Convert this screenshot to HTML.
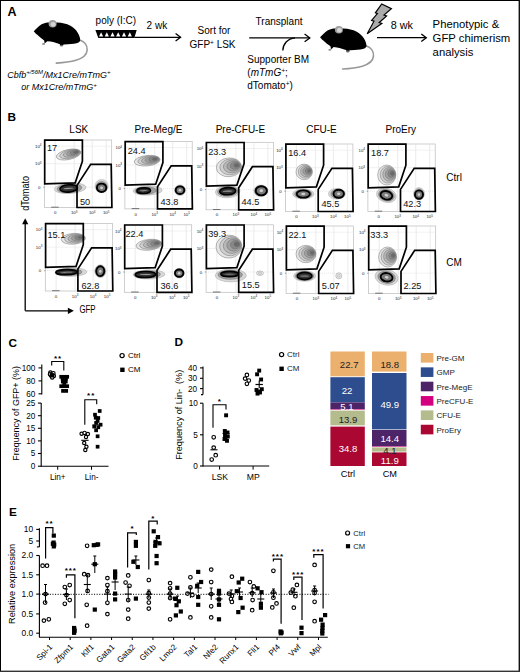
<!DOCTYPE html><html><head><meta charset="utf-8"><style>html,body{margin:0;padding:0;background:#fff;width:520px;height:672px;overflow:hidden;}svg{display:block;}text{font-family:"Liberation Sans", sans-serif;}</style></head><body>
<svg width="520" height="672" viewBox="0 0 520 672">
<rect x="0" y="0" width="520" height="672" fill="#fff"/>
<text x="7.60" y="16.20" font-size="12.5" text-anchor="start" font-weight="bold" fill="#000" >A</text>
<g transform="translate(0,0)">
<path d="M80.3,40.2 C84,41.5 87.5,45 87.2,50 C86.8,55 82,58.5 76,60.3 C70,62 62,62.8 56.3,63.1" fill="none" stroke="#999" stroke-width="1.6" stroke-linecap="round"/>
<path d="M33.8,31.3 C36,29 38.5,26.5 41.2,24.6 C43.5,23.3 45.5,22.7 47.5,22.5 L57.3,22.6 C62,22.9 66.7,23.9 70,25.5 C73.5,27.2 76,29.8 77.7,32.7 C79.3,35.5 80.3,38.2 80.2,40.7 C79.5,42.4 77.5,43.2 74,43.7 L68,44.2 L64,44.4 L62.2,45.2 L60.2,45.0 L59.8,44.2 C57.5,43.4 54,42.3 50.6,41.6 L47.3,41.2 L45.8,42.6 L44.6,43.4 L44.2,40.4 C41.5,38.6 39,36.6 37,34.6 C35.5,33.3 34.4,32.3 33.8,31.3 Z" fill="#000"/>
<ellipse cx="52.6" cy="23.8" rx="4.0" ry="3.8" fill="#9c9c9c"/>
<ellipse cx="53.1" cy="24.3" rx="2.5" ry="2.4" fill="#d4d4d4"/>
<ellipse cx="43.6" cy="43.9" rx="1.6" ry="0.9" fill="#8a8a8a"/>
<ellipse cx="61.5" cy="45.6" rx="1.8" ry="0.9" fill="#6a6a6a"/>
</g>
<g transform="translate(286.3,5.9)">
<path d="M80.3,40.2 C84,41.5 87.5,45 87.2,50 C86.8,55 82,58.5 76,60.3 C70,62 62,62.8 56.3,63.1" fill="none" stroke="#999" stroke-width="1.6" stroke-linecap="round"/>
<path d="M33.8,31.3 C36,29 38.5,26.5 41.2,24.6 C43.5,23.3 45.5,22.7 47.5,22.5 L57.3,22.6 C62,22.9 66.7,23.9 70,25.5 C73.5,27.2 76,29.8 77.7,32.7 C79.3,35.5 80.3,38.2 80.2,40.7 C79.5,42.4 77.5,43.2 74,43.7 L68,44.2 L64,44.4 L62.2,45.2 L60.2,45.0 L59.8,44.2 C57.5,43.4 54,42.3 50.6,41.6 L47.3,41.2 L45.8,42.6 L44.6,43.4 L44.2,40.4 C41.5,38.6 39,36.6 37,34.6 C35.5,33.3 34.4,32.3 33.8,31.3 Z" fill="#000"/>
<ellipse cx="52.6" cy="23.8" rx="4.0" ry="3.8" fill="#9c9c9c"/>
<ellipse cx="53.1" cy="24.3" rx="2.5" ry="2.4" fill="#d4d4d4"/>
<ellipse cx="43.6" cy="43.9" rx="1.6" ry="0.9" fill="#8a8a8a"/>
<ellipse cx="61.5" cy="45.6" rx="1.8" ry="0.9" fill="#6a6a6a"/>
</g>
<text x="7.2" y="77.6" font-size="9" font-style="italic">Cbfb<tspan font-size="6" dy="-3.3">+/56M</tspan><tspan dy="3.3">/Mx1Cre/mTmG</tspan><tspan font-size="6" dy="-3.3">+</tspan></text>
<text x="21.2" y="90.4" font-size="9" font-style="italic">or Mx1Cre/mTmG<tspan font-size="6" dy="-3.3">+</tspan></text>
<text x="95.60" y="23.50" font-size="10" text-anchor="start" fill="#000" >poly (I:C)</text>
<polygon points="95.40,30.00 136.70,30.00 134.30,37.90 98.30,37.90" fill="#000" stroke="none" stroke-width="1" />
<polygon points="99.00,36.60 103.20,36.60 101.10,32.30" fill="#fff" stroke="none" stroke-width="1" />
<polygon points="104.70,36.60 108.90,36.60 106.80,32.30" fill="#fff" stroke="none" stroke-width="1" />
<polygon points="110.40,36.60 114.60,36.60 112.50,32.30" fill="#fff" stroke="none" stroke-width="1" />
<polygon points="116.10,36.60 120.30,36.60 118.20,32.30" fill="#fff" stroke="none" stroke-width="1" />
<polygon points="121.90,36.60 126.10,36.60 124.00,32.30" fill="#fff" stroke="none" stroke-width="1" />
<polygon points="127.70,36.60 131.90,36.60 129.80,32.30" fill="#fff" stroke="none" stroke-width="1" />
<line x1="134.30" y1="37.30" x2="180.50" y2="37.30" stroke="#000" stroke-width="1.3" />
<polyline points="175.60,33.50 180.60,37.30 175.60,41.10" fill="none" stroke="#000" stroke-width="1.3" />
<text x="146.60" y="28.60" font-size="10" text-anchor="start" fill="#000" >2 wk</text>
<text x="197.60" y="34.20" font-size="10" text-anchor="start" fill="#000" >Sort for</text>
<text x="189.5" y="48.2" font-size="10">GFP<tspan font-size="6.5" dy="-3.5">+</tspan><tspan dy="3.5"> LSK</tspan></text>
<text x="255.60" y="25.00" font-size="10" text-anchor="start" fill="#000" >Transplant</text>
<line x1="249.20" y1="37.90" x2="309.80" y2="37.90" stroke="#000" stroke-width="1.3" />
<polyline points="304.60,34.10 309.80,37.90 304.60,41.70" fill="none" stroke="#000" stroke-width="1.3" />
<path d="M282.8,50.6 C283,44 287.5,38.6 295,37.9" fill="none" stroke="#000" stroke-width="1.3"/>
<text x="247.30" y="63.00" font-size="10" text-anchor="start" fill="#000" >Supporter BM</text>
<text x="247.3" y="76.3" font-size="10">(<tspan font-style="italic">mTmG</tspan><tspan font-size="6.5" dy="-3.5" font-style="italic">+</tspan><tspan dy="3.5">;</tspan></text>
<text x="247.3" y="89.3" font-size="10">dTomato<tspan font-size="6.5" dy="-3.5">+</tspan><tspan dy="3.5">)</tspan></text>
<polygon points="381.70,4.00 391.40,8.70 384.00,15.00 386.60,16.00 379.20,22.60 381.80,23.40 367.20,33.70 374.00,21.20 371.60,20.40 377.40,13.60 375.40,12.80" fill="#ababab" stroke="#000" stroke-width="1.2" stroke-linejoin="miter"/>
<text x="390.80" y="28.80" font-size="10.8" text-anchor="start" fill="#000" >8 wk</text>
<line x1="377.00" y1="37.70" x2="426.20" y2="37.70" stroke="#000" stroke-width="1.3" />
<polyline points="421.30,33.90 426.30,37.70 421.30,41.50" fill="none" stroke="#000" stroke-width="1.3" />
<text x="432.60" y="27.90" font-size="11.3" text-anchor="start" fill="#000" >Phenotypic &amp;</text>
<text x="432.60" y="41.90" font-size="11.3" text-anchor="start" fill="#000" >GFP chimerism</text>
<text x="432.60" y="56.00" font-size="11.3" text-anchor="start" fill="#000" >analysis</text>
<text x="7.60" y="120.80" font-size="11.8" text-anchor="start" font-weight="bold" fill="#000" >B</text>
<text x="78.80" y="133.40" font-size="10" text-anchor="middle" fill="#000" >LSK</text>
<text x="158.50" y="133.40" font-size="10" text-anchor="middle" fill="#000" >Pre-Meg/E</text>
<text x="240.40" y="133.40" font-size="10" text-anchor="middle" fill="#000" >Pre-CFU-E</text>
<text x="321.50" y="133.40" font-size="10" text-anchor="middle" fill="#000" >CFU-E</text>
<text x="400.80" y="133.40" font-size="10" text-anchor="middle" fill="#000" >ProEry</text>
<rect x="44.40" y="140.00" width="67.30" height="67.50" fill="none" stroke="#bbb" stroke-width="0.7"/>
<line x1="55.20" y1="140.00" x2="55.20" y2="207.50" stroke="#dedede" stroke-width="0.6" />
<line x1="74.20" y1="140.00" x2="74.20" y2="207.50" stroke="#dedede" stroke-width="0.6" />
<line x1="92.20" y1="140.00" x2="92.20" y2="207.50" stroke="#dedede" stroke-width="0.6" />
<line x1="106.20" y1="140.00" x2="106.20" y2="207.50" stroke="#dedede" stroke-width="0.6" />
<line x1="44.40" y1="146.20" x2="111.70" y2="146.20" stroke="#e2e2e2" stroke-width="0.5" />
<line x1="44.40" y1="163.70" x2="111.70" y2="163.70" stroke="#e2e2e2" stroke-width="0.5" />
<line x1="44.40" y1="187.20" x2="111.70" y2="187.20" stroke="#d0d0d0" stroke-width="0.5" stroke-dasharray="1,1"/>
<text x="41.50" y="147.70" font-size="4.4" text-anchor="end" fill="#222">10<tspan font-size="3" dy="-1.5">4</tspan></text>
<text x="41.50" y="165.20" font-size="4.4" text-anchor="end" fill="#222">10<tspan font-size="3" dy="-1.5">3</tspan></text>
<text x="40.40" y="188.70" font-size="4.4" text-anchor="end" fill="#222">0</text>
<text x="55.20" y="214.10" font-size="4.4" text-anchor="middle" fill="#222">0</text>
<text x="74.20" y="214.10" font-size="4.4" text-anchor="middle" fill="#222">10<tspan font-size="3" dy="-1.5">3</tspan></text>
<text x="92.20" y="214.10" font-size="4.4" text-anchor="middle" fill="#222">10<tspan font-size="3" dy="-1.5">4</tspan></text>
<text x="106.20" y="214.10" font-size="4.4" text-anchor="middle" fill="#222">10<tspan font-size="3" dy="-1.5">5</tspan></text>
<line x1="51.20" y1="207.20" x2="58.70" y2="207.20" stroke="#666" stroke-width="0.9" />
<line x1="43.20" y1="187.20" x2="44.40" y2="187.20" stroke="#555" stroke-width="0.6" />
<g transform="translate(68.60,154.50) rotate(-12)">
<ellipse cx="0.00" cy="-0.00" rx="12.50" ry="5.00" fill="#e6e6e6" stroke="#666" stroke-width="0.45"/>
<ellipse cx="1.50" cy="-0.15" rx="10.50" ry="4.20" fill="#cfcfcf" stroke="#666" stroke-width="0.45"/>
<ellipse cx="3.00" cy="-0.30" rx="8.50" ry="3.40" fill="#b8b8b8" stroke="#666" stroke-width="0.45"/>
<ellipse cx="4.50" cy="-0.45" rx="6.50" ry="2.60" fill="#a0a0a0" stroke="#666" stroke-width="0.45"/>
<ellipse cx="6.00" cy="-0.60" rx="4.50" ry="1.80" fill="#888888" stroke="#666" stroke-width="0.45"/>
<ellipse cx="7.50" cy="-0.75" rx="2.50" ry="1.00" fill="#6a6a6a" stroke="#666" stroke-width="0.45"/>
</g>
<g transform="translate(68.70,188.40) rotate(-4)">
<ellipse cx="1.50" cy="0.00" rx="15.90" ry="5.20" fill="#d8d8d8" stroke="#a0a0a0" stroke-width="0.45"/>
<ellipse cx="0.75" cy="0.00" rx="12.35" ry="4.45" fill="#a0a0a0" stroke="#606060" stroke-width="0.45"/>
<ellipse cx="0" cy="0" rx="8.80" ry="3.70" fill="#333" stroke="#000" stroke-width="1.6"/>
<ellipse cx="0" cy="0" rx="5.28" ry="0.59" fill="#a0a0a0"/>
</g>
<g transform="translate(101.60,187.80) rotate(0)">
<ellipse cx="0.00" cy="-1.80" rx="6.60" ry="6.60" fill="#d8d8d8" stroke="#a0a0a0" stroke-width="0.45"/>
<ellipse cx="0.00" cy="-0.90" rx="5.65" ry="5.40" fill="#a0a0a0" stroke="#606060" stroke-width="0.45"/>
<ellipse cx="0" cy="0" rx="4.70" ry="4.20" fill="#7a7a7a" stroke="#000" stroke-width="1.9"/>
<ellipse cx="0" cy="0" rx="1.50" ry="1.34" fill="#d0d0d0"/>
</g>
<polygon points="44.70,140.20 82.40,140.20 82.40,161.20 75.20,182.80 44.70,183.80" fill="none" stroke="#000" stroke-width="1.7" stroke-linejoin="miter"/>
<polygon points="90.70,164.40 111.20,164.40 111.90,207.50 77.00,207.50 77.00,185.40" fill="none" stroke="#000" stroke-width="1.7" stroke-linejoin="miter"/>
<text x="47.00" y="151.40" font-size="9.2" text-anchor="start" fill="#111" >17</text>
<text x="80.00" y="205.10" font-size="9.2" text-anchor="start" fill="#111" >50</text>
<rect x="124.90" y="141.40" width="67.30" height="67.50" fill="none" stroke="#bbb" stroke-width="0.7"/>
<line x1="135.70" y1="141.40" x2="135.70" y2="208.90" stroke="#dedede" stroke-width="0.6" />
<line x1="154.70" y1="141.40" x2="154.70" y2="208.90" stroke="#dedede" stroke-width="0.6" />
<line x1="172.70" y1="141.40" x2="172.70" y2="208.90" stroke="#dedede" stroke-width="0.6" />
<line x1="186.70" y1="141.40" x2="186.70" y2="208.90" stroke="#dedede" stroke-width="0.6" />
<line x1="124.90" y1="147.60" x2="192.20" y2="147.60" stroke="#e2e2e2" stroke-width="0.5" />
<line x1="124.90" y1="165.10" x2="192.20" y2="165.10" stroke="#e2e2e2" stroke-width="0.5" />
<line x1="124.90" y1="188.60" x2="192.20" y2="188.60" stroke="#d0d0d0" stroke-width="0.5" stroke-dasharray="1,1"/>
<text x="122.00" y="149.10" font-size="4.4" text-anchor="end" fill="#222">10<tspan font-size="3" dy="-1.5">4</tspan></text>
<text x="122.00" y="166.60" font-size="4.4" text-anchor="end" fill="#222">10<tspan font-size="3" dy="-1.5">3</tspan></text>
<text x="120.90" y="190.10" font-size="4.4" text-anchor="end" fill="#222">0</text>
<text x="135.70" y="215.50" font-size="4.4" text-anchor="middle" fill="#222">0</text>
<text x="154.70" y="215.50" font-size="4.4" text-anchor="middle" fill="#222">10<tspan font-size="3" dy="-1.5">3</tspan></text>
<text x="172.70" y="215.50" font-size="4.4" text-anchor="middle" fill="#222">10<tspan font-size="3" dy="-1.5">4</tspan></text>
<text x="186.70" y="215.50" font-size="4.4" text-anchor="middle" fill="#222">10<tspan font-size="3" dy="-1.5">5</tspan></text>
<line x1="131.70" y1="208.60" x2="139.20" y2="208.60" stroke="#666" stroke-width="0.9" />
<line x1="123.70" y1="188.60" x2="124.90" y2="188.60" stroke="#555" stroke-width="0.6" />
<g transform="translate(147.20,160.70) rotate(-6)">
<ellipse cx="0.00" cy="-0.00" rx="13.00" ry="5.20" fill="#e6e6e6" stroke="#666" stroke-width="0.45"/>
<ellipse cx="1.56" cy="-0.16" rx="10.92" ry="4.37" fill="#cfcfcf" stroke="#666" stroke-width="0.45"/>
<ellipse cx="3.12" cy="-0.31" rx="8.84" ry="3.54" fill="#b8b8b8" stroke="#666" stroke-width="0.45"/>
<ellipse cx="4.68" cy="-0.47" rx="6.76" ry="2.70" fill="#a0a0a0" stroke="#666" stroke-width="0.45"/>
<ellipse cx="6.24" cy="-0.62" rx="4.68" ry="1.87" fill="#888888" stroke="#666" stroke-width="0.45"/>
<ellipse cx="7.80" cy="-0.78" rx="2.60" ry="1.04" fill="#6a6a6a" stroke="#666" stroke-width="0.45"/>
</g>
<g transform="translate(143.70,190.70) rotate(-2)">
<ellipse cx="4.00" cy="0.00" rx="14.60" ry="4.60" fill="#d8d8d8" stroke="#a0a0a0" stroke-width="0.45"/>
<ellipse cx="2.00" cy="0.00" rx="10.70" ry="3.70" fill="#a0a0a0" stroke="#606060" stroke-width="0.45"/>
<ellipse cx="0" cy="0" rx="6.80" ry="2.80" fill="#333" stroke="#000" stroke-width="1.6"/>
<ellipse cx="0" cy="0" rx="4.08" ry="0.45" fill="#a0a0a0"/>
</g>
<g transform="translate(180.00,190.20) rotate(0)">
<ellipse cx="0.00" cy="0.00" rx="5.50" ry="5.30" fill="#d8d8d8" stroke="#a0a0a0" stroke-width="0.45"/>
<ellipse cx="0.00" cy="0.00" rx="4.90" ry="4.55" fill="#a0a0a0" stroke="#606060" stroke-width="0.45"/>
<ellipse cx="0" cy="0" rx="4.30" ry="3.80" fill="#7a7a7a" stroke="#000" stroke-width="1.9"/>
<ellipse cx="0" cy="0" rx="1.38" ry="1.22" fill="#d0d0d0"/>
</g>
<polygon points="125.20,141.60 162.90,141.60 162.90,162.60 155.70,184.20 125.20,185.20" fill="none" stroke="#000" stroke-width="1.7" stroke-linejoin="miter"/>
<polygon points="171.20,165.80 191.70,165.80 192.40,208.90 157.50,208.90 157.50,186.80" fill="none" stroke="#000" stroke-width="1.7" stroke-linejoin="miter"/>
<text x="127.70" y="154.30" font-size="9.2" text-anchor="start" fill="#111" >24.4</text>
<text x="160.50" y="204.80" font-size="9.2" text-anchor="start" fill="#111" >43.8</text>
<rect x="206.10" y="142.30" width="67.30" height="67.50" fill="none" stroke="#bbb" stroke-width="0.7"/>
<line x1="216.90" y1="142.30" x2="216.90" y2="209.80" stroke="#dedede" stroke-width="0.6" />
<line x1="235.90" y1="142.30" x2="235.90" y2="209.80" stroke="#dedede" stroke-width="0.6" />
<line x1="253.90" y1="142.30" x2="253.90" y2="209.80" stroke="#dedede" stroke-width="0.6" />
<line x1="267.90" y1="142.30" x2="267.90" y2="209.80" stroke="#dedede" stroke-width="0.6" />
<line x1="206.10" y1="148.50" x2="273.40" y2="148.50" stroke="#e2e2e2" stroke-width="0.5" />
<line x1="206.10" y1="166.00" x2="273.40" y2="166.00" stroke="#e2e2e2" stroke-width="0.5" />
<line x1="206.10" y1="189.50" x2="273.40" y2="189.50" stroke="#d0d0d0" stroke-width="0.5" stroke-dasharray="1,1"/>
<text x="203.20" y="150.00" font-size="4.4" text-anchor="end" fill="#222">10<tspan font-size="3" dy="-1.5">4</tspan></text>
<text x="203.20" y="167.50" font-size="4.4" text-anchor="end" fill="#222">10<tspan font-size="3" dy="-1.5">3</tspan></text>
<text x="202.10" y="191.00" font-size="4.4" text-anchor="end" fill="#222">0</text>
<text x="216.90" y="216.40" font-size="4.4" text-anchor="middle" fill="#222">0</text>
<text x="235.90" y="216.40" font-size="4.4" text-anchor="middle" fill="#222">10<tspan font-size="3" dy="-1.5">3</tspan></text>
<text x="253.90" y="216.40" font-size="4.4" text-anchor="middle" fill="#222">10<tspan font-size="3" dy="-1.5">4</tspan></text>
<text x="267.90" y="216.40" font-size="4.4" text-anchor="middle" fill="#222">10<tspan font-size="3" dy="-1.5">5</tspan></text>
<line x1="212.90" y1="209.50" x2="220.40" y2="209.50" stroke="#666" stroke-width="0.9" />
<line x1="204.90" y1="189.50" x2="206.10" y2="189.50" stroke="#555" stroke-width="0.6" />
<g transform="translate(229.00,167.30) rotate(-4)">
<ellipse cx="0.00" cy="-0.00" rx="12.70" ry="9.40" fill="#e6e6e6" stroke="#666" stroke-width="0.45"/>
<ellipse cx="1.52" cy="-0.28" rx="10.67" ry="7.90" fill="#cfcfcf" stroke="#666" stroke-width="0.45"/>
<ellipse cx="3.05" cy="-0.56" rx="8.64" ry="6.39" fill="#b8b8b8" stroke="#666" stroke-width="0.45"/>
<ellipse cx="4.57" cy="-0.85" rx="6.60" ry="4.89" fill="#a0a0a0" stroke="#666" stroke-width="0.45"/>
<ellipse cx="6.10" cy="-1.13" rx="4.57" ry="3.38" fill="#888888" stroke="#666" stroke-width="0.45"/>
<ellipse cx="7.62" cy="-1.41" rx="2.54" ry="1.88" fill="#6a6a6a" stroke="#666" stroke-width="0.45"/>
</g>
<g transform="translate(227.70,191.20) rotate(-3)">
<ellipse cx="0.00" cy="0.50" rx="12.30" ry="6.10" fill="#d8d8d8" stroke="#a0a0a0" stroke-width="0.45"/>
<ellipse cx="0.00" cy="0.25" rx="10.15" ry="4.85" fill="#a0a0a0" stroke="#606060" stroke-width="0.45"/>
<ellipse cx="0" cy="0" rx="8.00" ry="3.60" fill="#333" stroke="#000" stroke-width="1.6"/>
<ellipse cx="0" cy="0" rx="4.80" ry="0.58" fill="#a0a0a0"/>
</g>
<g transform="translate(261.30,190.80) rotate(0)">
<ellipse cx="-0.50" cy="0.00" rx="7.00" ry="5.80" fill="#d8d8d8" stroke="#a0a0a0" stroke-width="0.45"/>
<ellipse cx="-0.25" cy="0.00" rx="6.30" ry="5.20" fill="#a0a0a0" stroke="#606060" stroke-width="0.45"/>
<ellipse cx="0" cy="0" rx="5.60" ry="4.60" fill="#7a7a7a" stroke="#000" stroke-width="1.9"/>
<ellipse cx="0" cy="0" rx="1.79" ry="1.47" fill="#d0d0d0"/>
</g>
<polygon points="206.40,142.50 244.10,142.50 244.10,163.50 236.90,185.10 206.40,186.10" fill="none" stroke="#000" stroke-width="1.7" stroke-linejoin="miter"/>
<polygon points="252.40,166.70 272.90,166.70 273.60,209.80 238.70,209.80 238.70,187.70" fill="none" stroke="#000" stroke-width="1.7" stroke-linejoin="miter"/>
<text x="208.20" y="154.60" font-size="9.2" text-anchor="start" fill="#111" >23.3</text>
<text x="241.40" y="204.80" font-size="9.2" text-anchor="start" fill="#111" >44.5</text>
<rect x="285.60" y="144.00" width="67.30" height="67.50" fill="none" stroke="#bbb" stroke-width="0.7"/>
<line x1="296.40" y1="144.00" x2="296.40" y2="211.50" stroke="#dedede" stroke-width="0.6" />
<line x1="315.40" y1="144.00" x2="315.40" y2="211.50" stroke="#dedede" stroke-width="0.6" />
<line x1="333.40" y1="144.00" x2="333.40" y2="211.50" stroke="#dedede" stroke-width="0.6" />
<line x1="347.40" y1="144.00" x2="347.40" y2="211.50" stroke="#dedede" stroke-width="0.6" />
<line x1="285.60" y1="150.20" x2="352.90" y2="150.20" stroke="#e2e2e2" stroke-width="0.5" />
<line x1="285.60" y1="167.70" x2="352.90" y2="167.70" stroke="#e2e2e2" stroke-width="0.5" />
<line x1="285.60" y1="191.20" x2="352.90" y2="191.20" stroke="#d0d0d0" stroke-width="0.5" stroke-dasharray="1,1"/>
<text x="282.70" y="151.70" font-size="4.4" text-anchor="end" fill="#222">10<tspan font-size="3" dy="-1.5">4</tspan></text>
<text x="282.70" y="169.20" font-size="4.4" text-anchor="end" fill="#222">10<tspan font-size="3" dy="-1.5">3</tspan></text>
<text x="281.60" y="192.70" font-size="4.4" text-anchor="end" fill="#222">0</text>
<text x="296.40" y="218.10" font-size="4.4" text-anchor="middle" fill="#222">0</text>
<text x="315.40" y="218.10" font-size="4.4" text-anchor="middle" fill="#222">10<tspan font-size="3" dy="-1.5">3</tspan></text>
<text x="333.40" y="218.10" font-size="4.4" text-anchor="middle" fill="#222">10<tspan font-size="3" dy="-1.5">4</tspan></text>
<text x="347.40" y="218.10" font-size="4.4" text-anchor="middle" fill="#222">10<tspan font-size="3" dy="-1.5">5</tspan></text>
<line x1="292.40" y1="211.20" x2="299.90" y2="211.20" stroke="#666" stroke-width="0.9" />
<line x1="284.40" y1="191.20" x2="285.60" y2="191.20" stroke="#555" stroke-width="0.6" />
<g transform="translate(304.20,171.90) rotate(0)">
<ellipse cx="0.00" cy="-0.00" rx="8.20" ry="7.80" fill="#e6e6e6" stroke="#666" stroke-width="0.45"/>
<ellipse cx="0.98" cy="-0.23" rx="6.89" ry="6.55" fill="#cfcfcf" stroke="#666" stroke-width="0.45"/>
<ellipse cx="1.97" cy="-0.47" rx="5.58" ry="5.30" fill="#b8b8b8" stroke="#666" stroke-width="0.45"/>
<ellipse cx="2.95" cy="-0.70" rx="4.26" ry="4.06" fill="#a0a0a0" stroke="#666" stroke-width="0.45"/>
<ellipse cx="3.94" cy="-0.94" rx="2.95" ry="2.81" fill="#888888" stroke="#666" stroke-width="0.45"/>
<ellipse cx="4.92" cy="-1.17" rx="1.64" ry="1.56" fill="#6a6a6a" stroke="#666" stroke-width="0.45"/>
</g>
<g transform="translate(303.30,194.00) rotate(0)">
<ellipse cx="0.00" cy="0.00" rx="10.70" ry="5.00" fill="#d8d8d8" stroke="#a0a0a0" stroke-width="0.45"/>
<ellipse cx="0.00" cy="0.00" rx="8.65" ry="4.30" fill="#a0a0a0" stroke="#606060" stroke-width="0.45"/>
<ellipse cx="0" cy="0" rx="6.60" ry="3.60" fill="#7a7a7a" stroke="#000" stroke-width="1.9"/>
<ellipse cx="0" cy="0" rx="2.11" ry="1.15" fill="#d0d0d0"/>
</g>
<g transform="translate(338.70,193.80) rotate(0)">
<ellipse cx="-1.80" cy="0.00" rx="8.50" ry="5.40" fill="#d8d8d8" stroke="#a0a0a0" stroke-width="0.45"/>
<ellipse cx="-0.90" cy="0.00" rx="6.85" ry="4.70" fill="#a0a0a0" stroke="#606060" stroke-width="0.45"/>
<ellipse cx="0" cy="0" rx="5.20" ry="4.00" fill="#7a7a7a" stroke="#000" stroke-width="1.9"/>
<ellipse cx="0" cy="0" rx="1.66" ry="1.28" fill="#d0d0d0"/>
</g>
<polygon points="285.90,144.20 323.60,144.20 323.60,165.20 316.40,186.80 285.90,187.80" fill="none" stroke="#000" stroke-width="1.7" stroke-linejoin="miter"/>
<polygon points="331.90,168.40 352.40,168.40 353.10,211.50 318.20,211.50 318.20,189.40" fill="none" stroke="#000" stroke-width="1.7" stroke-linejoin="miter"/>
<text x="288.20" y="156.00" font-size="9.2" text-anchor="start" fill="#111" >16.4</text>
<text x="321.40" y="207.40" font-size="9.2" text-anchor="start" fill="#111" >45.5</text>
<rect x="367.90" y="144.00" width="67.30" height="67.50" fill="none" stroke="#bbb" stroke-width="0.7"/>
<line x1="378.70" y1="144.00" x2="378.70" y2="211.50" stroke="#dedede" stroke-width="0.6" />
<line x1="397.70" y1="144.00" x2="397.70" y2="211.50" stroke="#dedede" stroke-width="0.6" />
<line x1="415.70" y1="144.00" x2="415.70" y2="211.50" stroke="#dedede" stroke-width="0.6" />
<line x1="429.70" y1="144.00" x2="429.70" y2="211.50" stroke="#dedede" stroke-width="0.6" />
<line x1="367.90" y1="150.20" x2="435.20" y2="150.20" stroke="#e2e2e2" stroke-width="0.5" />
<line x1="367.90" y1="167.70" x2="435.20" y2="167.70" stroke="#e2e2e2" stroke-width="0.5" />
<line x1="367.90" y1="191.20" x2="435.20" y2="191.20" stroke="#d0d0d0" stroke-width="0.5" stroke-dasharray="1,1"/>
<text x="365.00" y="151.70" font-size="4.4" text-anchor="end" fill="#222">10<tspan font-size="3" dy="-1.5">4</tspan></text>
<text x="365.00" y="169.20" font-size="4.4" text-anchor="end" fill="#222">10<tspan font-size="3" dy="-1.5">3</tspan></text>
<text x="363.90" y="192.70" font-size="4.4" text-anchor="end" fill="#222">0</text>
<text x="378.70" y="218.10" font-size="4.4" text-anchor="middle" fill="#222">0</text>
<text x="397.70" y="218.10" font-size="4.4" text-anchor="middle" fill="#222">10<tspan font-size="3" dy="-1.5">3</tspan></text>
<text x="415.70" y="218.10" font-size="4.4" text-anchor="middle" fill="#222">10<tspan font-size="3" dy="-1.5">4</tspan></text>
<text x="429.70" y="218.10" font-size="4.4" text-anchor="middle" fill="#222">10<tspan font-size="3" dy="-1.5">5</tspan></text>
<line x1="374.70" y1="211.20" x2="382.20" y2="211.20" stroke="#666" stroke-width="0.9" />
<line x1="366.70" y1="191.20" x2="367.90" y2="191.20" stroke="#555" stroke-width="0.6" />
<g transform="translate(386.80,175.00) rotate(0)">
<ellipse cx="0.00" cy="-0.00" rx="9.10" ry="10.00" fill="#e6e6e6" stroke="#666" stroke-width="0.45"/>
<ellipse cx="1.09" cy="-0.30" rx="7.64" ry="8.40" fill="#cfcfcf" stroke="#666" stroke-width="0.45"/>
<ellipse cx="2.18" cy="-0.60" rx="6.19" ry="6.80" fill="#b8b8b8" stroke="#666" stroke-width="0.45"/>
<ellipse cx="3.28" cy="-0.90" rx="4.73" ry="5.20" fill="#a0a0a0" stroke="#666" stroke-width="0.45"/>
<ellipse cx="4.37" cy="-1.20" rx="3.28" ry="3.60" fill="#888888" stroke="#666" stroke-width="0.45"/>
<ellipse cx="5.46" cy="-1.50" rx="1.82" ry="2.00" fill="#6a6a6a" stroke="#666" stroke-width="0.45"/>
</g>
<g transform="translate(386.40,195.30) rotate(15)">
<ellipse cx="0.00" cy="0.00" rx="10.00" ry="7.00" fill="#d8d8d8" stroke="#a0a0a0" stroke-width="0.45"/>
<ellipse cx="0.00" cy="0.00" rx="8.00" ry="5.60" fill="#a0a0a0" stroke="#606060" stroke-width="0.45"/>
<ellipse cx="0" cy="0" rx="6.00" ry="4.20" fill="#7a7a7a" stroke="#000" stroke-width="1.9"/>
<ellipse cx="0" cy="0" rx="1.92" ry="1.34" fill="#d0d0d0"/>
</g>
<g transform="translate(419.00,194.60) rotate(0)">
<ellipse cx="0.00" cy="-0.80" rx="5.50" ry="6.20" fill="#d8d8d8" stroke="#a0a0a0" stroke-width="0.45"/>
<ellipse cx="0.00" cy="-0.40" rx="4.75" ry="5.20" fill="#a0a0a0" stroke="#606060" stroke-width="0.45"/>
<ellipse cx="0" cy="0" rx="4.00" ry="4.20" fill="#7a7a7a" stroke="#000" stroke-width="1.9"/>
<ellipse cx="0" cy="0" rx="1.28" ry="1.34" fill="#d0d0d0"/>
</g>
<polygon points="368.20,144.20 405.90,144.20 405.90,165.20 398.70,186.80 368.20,187.80" fill="none" stroke="#000" stroke-width="1.7" stroke-linejoin="miter"/>
<polygon points="414.20,168.40 434.70,168.40 435.40,211.50 400.50,211.50 400.50,189.40" fill="none" stroke="#000" stroke-width="1.7" stroke-linejoin="miter"/>
<text x="371.10" y="156.30" font-size="9.2" text-anchor="start" fill="#111" >18.7</text>
<text x="403.20" y="207.40" font-size="9.2" text-anchor="start" fill="#111" >42.3</text>
<rect x="45.30" y="223.50" width="67.30" height="67.50" fill="none" stroke="#bbb" stroke-width="0.7"/>
<line x1="56.10" y1="223.50" x2="56.10" y2="291.00" stroke="#dedede" stroke-width="0.6" />
<line x1="75.10" y1="223.50" x2="75.10" y2="291.00" stroke="#dedede" stroke-width="0.6" />
<line x1="93.10" y1="223.50" x2="93.10" y2="291.00" stroke="#dedede" stroke-width="0.6" />
<line x1="107.10" y1="223.50" x2="107.10" y2="291.00" stroke="#dedede" stroke-width="0.6" />
<line x1="45.30" y1="229.70" x2="112.60" y2="229.70" stroke="#e2e2e2" stroke-width="0.5" />
<line x1="45.30" y1="247.20" x2="112.60" y2="247.20" stroke="#e2e2e2" stroke-width="0.5" />
<line x1="45.30" y1="270.70" x2="112.60" y2="270.70" stroke="#d0d0d0" stroke-width="0.5" stroke-dasharray="1,1"/>
<text x="42.40" y="231.20" font-size="4.4" text-anchor="end" fill="#222">10<tspan font-size="3" dy="-1.5">4</tspan></text>
<text x="42.40" y="248.70" font-size="4.4" text-anchor="end" fill="#222">10<tspan font-size="3" dy="-1.5">3</tspan></text>
<text x="41.30" y="272.20" font-size="4.4" text-anchor="end" fill="#222">0</text>
<text x="56.10" y="297.60" font-size="4.4" text-anchor="middle" fill="#222">0</text>
<text x="75.10" y="297.60" font-size="4.4" text-anchor="middle" fill="#222">10<tspan font-size="3" dy="-1.5">3</tspan></text>
<text x="93.10" y="297.60" font-size="4.4" text-anchor="middle" fill="#222">10<tspan font-size="3" dy="-1.5">4</tspan></text>
<text x="107.10" y="297.60" font-size="4.4" text-anchor="middle" fill="#222">10<tspan font-size="3" dy="-1.5">5</tspan></text>
<line x1="52.10" y1="290.70" x2="59.60" y2="290.70" stroke="#666" stroke-width="0.9" />
<line x1="44.10" y1="270.70" x2="45.30" y2="270.70" stroke="#555" stroke-width="0.6" />
<g transform="translate(73.30,238.80) rotate(-4)">
<ellipse cx="0.00" cy="-0.00" rx="12.10" ry="5.40" fill="#e6e6e6" stroke="#666" stroke-width="0.45"/>
<ellipse cx="1.45" cy="-0.16" rx="10.16" ry="4.54" fill="#cfcfcf" stroke="#666" stroke-width="0.45"/>
<ellipse cx="2.90" cy="-0.32" rx="8.23" ry="3.67" fill="#b8b8b8" stroke="#666" stroke-width="0.45"/>
<ellipse cx="4.36" cy="-0.49" rx="6.29" ry="2.81" fill="#a0a0a0" stroke="#666" stroke-width="0.45"/>
<ellipse cx="5.81" cy="-0.65" rx="4.36" ry="1.94" fill="#888888" stroke="#666" stroke-width="0.45"/>
<ellipse cx="7.26" cy="-0.81" rx="2.42" ry="1.08" fill="#6a6a6a" stroke="#666" stroke-width="0.45"/>
</g>
<g transform="translate(66.50,272.20) rotate(-1)">
<ellipse cx="4.50" cy="0.00" rx="16.00" ry="4.30" fill="#d8d8d8" stroke="#a0a0a0" stroke-width="0.45"/>
<ellipse cx="2.25" cy="0.00" rx="13.30" ry="3.45" fill="#a0a0a0" stroke="#606060" stroke-width="0.45"/>
<ellipse cx="0" cy="0" rx="10.60" ry="2.60" fill="#333" stroke="#000" stroke-width="1.6"/>
<ellipse cx="0" cy="0" rx="6.36" ry="0.42" fill="#a0a0a0"/>
</g>
<g transform="translate(100.30,271.20) rotate(0)">
<ellipse cx="0.00" cy="0.00" rx="5.60" ry="6.40" fill="#d8d8d8" stroke="#a0a0a0" stroke-width="0.45"/>
<ellipse cx="0.00" cy="0.00" rx="4.80" ry="5.65" fill="#a0a0a0" stroke="#606060" stroke-width="0.45"/>
<ellipse cx="0" cy="0" rx="4.00" ry="4.90" fill="#7a7a7a" stroke="#000" stroke-width="1.9"/>
<ellipse cx="0" cy="0" rx="1.28" ry="1.57" fill="#d0d0d0"/>
</g>
<polygon points="45.60,223.70 83.30,223.70 83.30,244.70 76.10,266.30 45.60,267.30" fill="none" stroke="#000" stroke-width="1.7" stroke-linejoin="miter"/>
<polygon points="91.60,247.90 112.10,247.90 112.80,291.00 77.90,291.00 77.90,268.90" fill="none" stroke="#000" stroke-width="1.7" stroke-linejoin="miter"/>
<text x="47.40" y="238.30" font-size="9.2" text-anchor="start" fill="#111" >15.1</text>
<text x="81.40" y="288.60" font-size="9.2" text-anchor="start" fill="#111" >62.8</text>
<rect x="124.40" y="224.80" width="67.30" height="67.50" fill="none" stroke="#bbb" stroke-width="0.7"/>
<line x1="135.20" y1="224.80" x2="135.20" y2="292.30" stroke="#dedede" stroke-width="0.6" />
<line x1="154.20" y1="224.80" x2="154.20" y2="292.30" stroke="#dedede" stroke-width="0.6" />
<line x1="172.20" y1="224.80" x2="172.20" y2="292.30" stroke="#dedede" stroke-width="0.6" />
<line x1="186.20" y1="224.80" x2="186.20" y2="292.30" stroke="#dedede" stroke-width="0.6" />
<line x1="124.40" y1="231.00" x2="191.70" y2="231.00" stroke="#e2e2e2" stroke-width="0.5" />
<line x1="124.40" y1="248.50" x2="191.70" y2="248.50" stroke="#e2e2e2" stroke-width="0.5" />
<line x1="124.40" y1="272.00" x2="191.70" y2="272.00" stroke="#d0d0d0" stroke-width="0.5" stroke-dasharray="1,1"/>
<text x="121.50" y="232.50" font-size="4.4" text-anchor="end" fill="#222">10<tspan font-size="3" dy="-1.5">4</tspan></text>
<text x="121.50" y="250.00" font-size="4.4" text-anchor="end" fill="#222">10<tspan font-size="3" dy="-1.5">3</tspan></text>
<text x="120.40" y="273.50" font-size="4.4" text-anchor="end" fill="#222">0</text>
<text x="135.20" y="298.90" font-size="4.4" text-anchor="middle" fill="#222">0</text>
<text x="154.20" y="298.90" font-size="4.4" text-anchor="middle" fill="#222">10<tspan font-size="3" dy="-1.5">3</tspan></text>
<text x="172.20" y="298.90" font-size="4.4" text-anchor="middle" fill="#222">10<tspan font-size="3" dy="-1.5">4</tspan></text>
<text x="186.20" y="298.90" font-size="4.4" text-anchor="middle" fill="#222">10<tspan font-size="3" dy="-1.5">5</tspan></text>
<line x1="131.20" y1="292.00" x2="138.70" y2="292.00" stroke="#666" stroke-width="0.9" />
<line x1="123.20" y1="272.00" x2="124.40" y2="272.00" stroke="#555" stroke-width="0.6" />
<g transform="translate(149.00,244.80) rotate(-6)">
<ellipse cx="0.00" cy="-0.00" rx="13.00" ry="5.40" fill="#e6e6e6" stroke="#666" stroke-width="0.45"/>
<ellipse cx="1.56" cy="-0.16" rx="10.92" ry="4.54" fill="#cfcfcf" stroke="#666" stroke-width="0.45"/>
<ellipse cx="3.12" cy="-0.32" rx="8.84" ry="3.67" fill="#b8b8b8" stroke="#666" stroke-width="0.45"/>
<ellipse cx="4.68" cy="-0.49" rx="6.76" ry="2.81" fill="#a0a0a0" stroke="#666" stroke-width="0.45"/>
<ellipse cx="6.24" cy="-0.65" rx="4.68" ry="1.94" fill="#888888" stroke="#666" stroke-width="0.45"/>
<ellipse cx="7.80" cy="-0.81" rx="2.60" ry="1.08" fill="#6a6a6a" stroke="#666" stroke-width="0.45"/>
</g>
<g transform="translate(145.50,274.50) rotate(-1)">
<ellipse cx="3.50" cy="0.00" rx="16.00" ry="4.60" fill="#d8d8d8" stroke="#a0a0a0" stroke-width="0.45"/>
<ellipse cx="1.75" cy="0.00" rx="13.10" ry="3.80" fill="#a0a0a0" stroke="#606060" stroke-width="0.45"/>
<ellipse cx="0" cy="0" rx="10.20" ry="3.00" fill="#333" stroke="#000" stroke-width="1.6"/>
<ellipse cx="0" cy="0" rx="6.12" ry="0.48" fill="#a0a0a0"/>
</g>
<g transform="translate(179.20,273.20) rotate(0)">
<ellipse cx="0.00" cy="0.00" rx="5.00" ry="4.80" fill="#d8d8d8" stroke="#a0a0a0" stroke-width="0.45"/>
<ellipse cx="0.00" cy="0.00" rx="4.60" ry="4.25" fill="#a0a0a0" stroke="#606060" stroke-width="0.45"/>
<ellipse cx="0" cy="0" rx="4.20" ry="3.70" fill="#7a7a7a" stroke="#000" stroke-width="1.9"/>
<ellipse cx="0" cy="0" rx="1.34" ry="1.18" fill="#d0d0d0"/>
</g>
<polygon points="124.70,225.00 162.40,225.00 162.40,246.00 155.20,267.60 124.70,268.60" fill="none" stroke="#000" stroke-width="1.7" stroke-linejoin="miter"/>
<polygon points="170.70,249.20 191.20,249.20 191.90,292.30 157.00,292.30 157.00,270.20" fill="none" stroke="#000" stroke-width="1.7" stroke-linejoin="miter"/>
<text x="125.50" y="237.20" font-size="9.2" text-anchor="start" fill="#111" >22.4</text>
<text x="160.50" y="288.60" font-size="9.2" text-anchor="start" fill="#111" >36.6</text>
<rect x="206.10" y="224.80" width="67.30" height="67.50" fill="none" stroke="#bbb" stroke-width="0.7"/>
<line x1="216.90" y1="224.80" x2="216.90" y2="292.30" stroke="#dedede" stroke-width="0.6" />
<line x1="235.90" y1="224.80" x2="235.90" y2="292.30" stroke="#dedede" stroke-width="0.6" />
<line x1="253.90" y1="224.80" x2="253.90" y2="292.30" stroke="#dedede" stroke-width="0.6" />
<line x1="267.90" y1="224.80" x2="267.90" y2="292.30" stroke="#dedede" stroke-width="0.6" />
<line x1="206.10" y1="231.00" x2="273.40" y2="231.00" stroke="#e2e2e2" stroke-width="0.5" />
<line x1="206.10" y1="248.50" x2="273.40" y2="248.50" stroke="#e2e2e2" stroke-width="0.5" />
<line x1="206.10" y1="272.00" x2="273.40" y2="272.00" stroke="#d0d0d0" stroke-width="0.5" stroke-dasharray="1,1"/>
<text x="203.20" y="232.50" font-size="4.4" text-anchor="end" fill="#222">10<tspan font-size="3" dy="-1.5">4</tspan></text>
<text x="203.20" y="250.00" font-size="4.4" text-anchor="end" fill="#222">10<tspan font-size="3" dy="-1.5">3</tspan></text>
<text x="202.10" y="273.50" font-size="4.4" text-anchor="end" fill="#222">0</text>
<text x="216.90" y="298.90" font-size="4.4" text-anchor="middle" fill="#222">0</text>
<text x="235.90" y="298.90" font-size="4.4" text-anchor="middle" fill="#222">10<tspan font-size="3" dy="-1.5">3</tspan></text>
<text x="253.90" y="298.90" font-size="4.4" text-anchor="middle" fill="#222">10<tspan font-size="3" dy="-1.5">4</tspan></text>
<text x="267.90" y="298.90" font-size="4.4" text-anchor="middle" fill="#222">10<tspan font-size="3" dy="-1.5">5</tspan></text>
<line x1="212.90" y1="292.00" x2="220.40" y2="292.00" stroke="#666" stroke-width="0.9" />
<line x1="204.90" y1="272.00" x2="206.10" y2="272.00" stroke="#555" stroke-width="0.6" />
<g transform="translate(229.00,246.60) rotate(-5)">
<ellipse cx="0.00" cy="-0.00" rx="13.00" ry="11.50" fill="#e6e6e6" stroke="#666" stroke-width="0.45"/>
<ellipse cx="1.56" cy="-0.34" rx="10.92" ry="9.66" fill="#cfcfcf" stroke="#666" stroke-width="0.45"/>
<ellipse cx="3.12" cy="-0.69" rx="8.84" ry="7.82" fill="#b8b8b8" stroke="#666" stroke-width="0.45"/>
<ellipse cx="4.68" cy="-1.03" rx="6.76" ry="5.98" fill="#a0a0a0" stroke="#666" stroke-width="0.45"/>
<ellipse cx="6.24" cy="-1.38" rx="4.68" ry="4.14" fill="#888888" stroke="#666" stroke-width="0.45"/>
<ellipse cx="7.80" cy="-1.72" rx="2.60" ry="2.30" fill="#6a6a6a" stroke="#666" stroke-width="0.45"/>
</g>
<g transform="translate(229.60,274.10) rotate(0)">
<ellipse cx="1.20" cy="1.40" rx="15.60" ry="6.40" fill="#d8d8d8" stroke="#a0a0a0" stroke-width="0.45"/>
<ellipse cx="0.60" cy="0.70" rx="12.20" ry="4.55" fill="#a0a0a0" stroke="#606060" stroke-width="0.45"/>
<ellipse cx="0" cy="0" rx="8.80" ry="2.70" fill="#333" stroke="#000" stroke-width="1.6"/>
<ellipse cx="0" cy="0" rx="5.28" ry="0.43" fill="#a0a0a0"/>
</g>
<ellipse cx="260.00" cy="273.20" rx="3.50" ry="2.20" fill="#f2f2f2" stroke="#8a8a8a" stroke-width="0.5"/>
<ellipse cx="260.00" cy="273.20" rx="1.75" ry="1.10" fill="#e0e0e0" stroke="#9a9a9a" stroke-width="0.4"/>
<polygon points="206.40,225.00 244.10,225.00 244.10,246.00 236.90,267.60 206.40,268.60" fill="none" stroke="#000" stroke-width="1.7" stroke-linejoin="miter"/>
<polygon points="252.40,249.20 272.90,249.20 273.60,292.30 238.70,292.30 238.70,270.20" fill="none" stroke="#000" stroke-width="1.7" stroke-linejoin="miter"/>
<text x="208.20" y="236.60" font-size="9.2" text-anchor="start" fill="#111" >39.3</text>
<text x="241.80" y="288.00" font-size="9.2" text-anchor="start" fill="#111" >15.5</text>
<rect x="286.10" y="226.00" width="67.30" height="67.50" fill="none" stroke="#bbb" stroke-width="0.7"/>
<line x1="296.90" y1="226.00" x2="296.90" y2="293.50" stroke="#dedede" stroke-width="0.6" />
<line x1="315.90" y1="226.00" x2="315.90" y2="293.50" stroke="#dedede" stroke-width="0.6" />
<line x1="333.90" y1="226.00" x2="333.90" y2="293.50" stroke="#dedede" stroke-width="0.6" />
<line x1="347.90" y1="226.00" x2="347.90" y2="293.50" stroke="#dedede" stroke-width="0.6" />
<line x1="286.10" y1="232.20" x2="353.40" y2="232.20" stroke="#e2e2e2" stroke-width="0.5" />
<line x1="286.10" y1="249.70" x2="353.40" y2="249.70" stroke="#e2e2e2" stroke-width="0.5" />
<line x1="286.10" y1="273.20" x2="353.40" y2="273.20" stroke="#d0d0d0" stroke-width="0.5" stroke-dasharray="1,1"/>
<text x="283.20" y="233.70" font-size="4.4" text-anchor="end" fill="#222">10<tspan font-size="3" dy="-1.5">4</tspan></text>
<text x="283.20" y="251.20" font-size="4.4" text-anchor="end" fill="#222">10<tspan font-size="3" dy="-1.5">3</tspan></text>
<text x="282.10" y="274.70" font-size="4.4" text-anchor="end" fill="#222">0</text>
<text x="296.90" y="300.10" font-size="4.4" text-anchor="middle" fill="#222">0</text>
<text x="315.90" y="300.10" font-size="4.4" text-anchor="middle" fill="#222">10<tspan font-size="3" dy="-1.5">3</tspan></text>
<text x="333.90" y="300.10" font-size="4.4" text-anchor="middle" fill="#222">10<tspan font-size="3" dy="-1.5">4</tspan></text>
<text x="347.90" y="300.10" font-size="4.4" text-anchor="middle" fill="#222">10<tspan font-size="3" dy="-1.5">5</tspan></text>
<line x1="292.90" y1="293.20" x2="300.40" y2="293.20" stroke="#666" stroke-width="0.9" />
<line x1="284.90" y1="273.20" x2="286.10" y2="273.20" stroke="#555" stroke-width="0.6" />
<g transform="translate(306.00,254.00) rotate(0)">
<ellipse cx="0.00" cy="-0.00" rx="10.00" ry="8.70" fill="#e6e6e6" stroke="#666" stroke-width="0.45"/>
<ellipse cx="1.20" cy="-0.26" rx="8.40" ry="7.31" fill="#cfcfcf" stroke="#666" stroke-width="0.45"/>
<ellipse cx="2.40" cy="-0.52" rx="6.80" ry="5.92" fill="#b8b8b8" stroke="#666" stroke-width="0.45"/>
<ellipse cx="3.60" cy="-0.78" rx="5.20" ry="4.52" fill="#a0a0a0" stroke="#666" stroke-width="0.45"/>
<ellipse cx="4.80" cy="-1.04" rx="3.60" ry="3.13" fill="#888888" stroke="#666" stroke-width="0.45"/>
<ellipse cx="6.00" cy="-1.30" rx="2.00" ry="1.74" fill="#6a6a6a" stroke="#666" stroke-width="0.45"/>
</g>
<g transform="translate(304.60,276.00) rotate(0)">
<ellipse cx="0.00" cy="0.00" rx="11.00" ry="5.30" fill="#d8d8d8" stroke="#a0a0a0" stroke-width="0.45"/>
<ellipse cx="0.00" cy="0.00" rx="9.20" ry="4.45" fill="#a0a0a0" stroke="#606060" stroke-width="0.45"/>
<ellipse cx="0" cy="0" rx="7.40" ry="3.60" fill="#333" stroke="#000" stroke-width="1.6"/>
<ellipse cx="0" cy="0" rx="4.44" ry="0.58" fill="#a0a0a0"/>
</g>
<ellipse cx="338.80" cy="275.80" rx="3.00" ry="3.00" fill="#f2f2f2" stroke="#8a8a8a" stroke-width="0.5"/>
<ellipse cx="338.80" cy="275.80" rx="1.50" ry="1.50" fill="#e0e0e0" stroke="#9a9a9a" stroke-width="0.4"/>
<polygon points="286.40,226.20 324.10,226.20 324.10,247.20 316.90,268.80 286.40,269.80" fill="none" stroke="#000" stroke-width="1.7" stroke-linejoin="miter"/>
<polygon points="332.40,250.40 352.90,250.40 353.60,293.50 318.70,293.50 318.70,271.40" fill="none" stroke="#000" stroke-width="1.7" stroke-linejoin="miter"/>
<text x="288.50" y="238.00" font-size="9.2" text-anchor="start" fill="#111" >22.1</text>
<text x="321.80" y="289.00" font-size="9.2" text-anchor="start" fill="#111" >5.07</text>
<rect x="368.40" y="226.00" width="67.30" height="67.50" fill="none" stroke="#bbb" stroke-width="0.7"/>
<line x1="379.20" y1="226.00" x2="379.20" y2="293.50" stroke="#dedede" stroke-width="0.6" />
<line x1="398.20" y1="226.00" x2="398.20" y2="293.50" stroke="#dedede" stroke-width="0.6" />
<line x1="416.20" y1="226.00" x2="416.20" y2="293.50" stroke="#dedede" stroke-width="0.6" />
<line x1="430.20" y1="226.00" x2="430.20" y2="293.50" stroke="#dedede" stroke-width="0.6" />
<line x1="368.40" y1="232.20" x2="435.70" y2="232.20" stroke="#e2e2e2" stroke-width="0.5" />
<line x1="368.40" y1="249.70" x2="435.70" y2="249.70" stroke="#e2e2e2" stroke-width="0.5" />
<line x1="368.40" y1="273.20" x2="435.70" y2="273.20" stroke="#d0d0d0" stroke-width="0.5" stroke-dasharray="1,1"/>
<text x="365.50" y="233.70" font-size="4.4" text-anchor="end" fill="#222">10<tspan font-size="3" dy="-1.5">4</tspan></text>
<text x="365.50" y="251.20" font-size="4.4" text-anchor="end" fill="#222">10<tspan font-size="3" dy="-1.5">3</tspan></text>
<text x="364.40" y="274.70" font-size="4.4" text-anchor="end" fill="#222">0</text>
<text x="379.20" y="300.10" font-size="4.4" text-anchor="middle" fill="#222">0</text>
<text x="398.20" y="300.10" font-size="4.4" text-anchor="middle" fill="#222">10<tspan font-size="3" dy="-1.5">3</tspan></text>
<text x="416.20" y="300.10" font-size="4.4" text-anchor="middle" fill="#222">10<tspan font-size="3" dy="-1.5">4</tspan></text>
<text x="430.20" y="300.10" font-size="4.4" text-anchor="middle" fill="#222">10<tspan font-size="3" dy="-1.5">5</tspan></text>
<line x1="375.20" y1="293.20" x2="382.70" y2="293.20" stroke="#666" stroke-width="0.9" />
<line x1="367.20" y1="273.20" x2="368.40" y2="273.20" stroke="#555" stroke-width="0.6" />
<g transform="translate(387.60,257.00) rotate(0)">
<ellipse cx="0.00" cy="-0.00" rx="9.00" ry="10.00" fill="#e6e6e6" stroke="#666" stroke-width="0.45"/>
<ellipse cx="1.08" cy="-0.30" rx="7.56" ry="8.40" fill="#cfcfcf" stroke="#666" stroke-width="0.45"/>
<ellipse cx="2.16" cy="-0.60" rx="6.12" ry="6.80" fill="#b8b8b8" stroke="#666" stroke-width="0.45"/>
<ellipse cx="3.24" cy="-0.90" rx="4.68" ry="5.20" fill="#a0a0a0" stroke="#666" stroke-width="0.45"/>
<ellipse cx="4.32" cy="-1.20" rx="3.24" ry="3.60" fill="#888888" stroke="#666" stroke-width="0.45"/>
<ellipse cx="5.40" cy="-1.50" rx="1.80" ry="2.00" fill="#6a6a6a" stroke="#666" stroke-width="0.45"/>
</g>
<g transform="translate(386.60,277.30) rotate(10)">
<ellipse cx="0.00" cy="0.00" rx="11.70" ry="7.80" fill="#d8d8d8" stroke="#a0a0a0" stroke-width="0.45"/>
<ellipse cx="0.00" cy="0.00" rx="8.85" ry="6.00" fill="#a0a0a0" stroke="#606060" stroke-width="0.45"/>
<ellipse cx="0" cy="0" rx="6.00" ry="4.20" fill="#7a7a7a" stroke="#000" stroke-width="1.9"/>
<ellipse cx="0" cy="0" rx="1.92" ry="1.34" fill="#d0d0d0"/>
</g>
<polygon points="368.70,226.20 406.40,226.20 406.40,247.20 399.20,268.80 368.70,269.80" fill="none" stroke="#000" stroke-width="1.7" stroke-linejoin="miter"/>
<polygon points="414.70,250.40 435.20,250.40 435.90,293.50 401.00,293.50 401.00,271.40" fill="none" stroke="#000" stroke-width="1.7" stroke-linejoin="miter"/>
<text x="370.30" y="237.80" font-size="9.2" text-anchor="start" fill="#111" >33.3</text>
<text x="403.50" y="289.00" font-size="9.2" text-anchor="start" fill="#111" >2.25</text>
<text x="446.30" y="181.00" font-size="10" text-anchor="start" fill="#000" >Ctrl</text>
<text x="446.30" y="266.00" font-size="10" text-anchor="start" fill="#000" >CM</text>
<text transform="translate(28.8,193.4) rotate(-90)" font-size="10.4" text-anchor="middle" textLength="34.8" lengthAdjust="spacingAndGlyphs">dTomato</text>
<line x1="25.20" y1="222.50" x2="25.20" y2="310.80" stroke="#000" stroke-width="1.3" />
<line x1="25.20" y1="310.80" x2="68.50" y2="310.80" stroke="#000" stroke-width="1.3" />
<polygon points="25.20,218.20 22.10,224.20 28.30,224.20" fill="#000" stroke="none" stroke-width="1" />
<polygon points="73.90,310.80 67.90,307.70 67.90,313.90" fill="#000" stroke="none" stroke-width="1" />
<text x="79.4" y="313.3" font-size="10" textLength="16.2" lengthAdjust="spacingAndGlyphs">GFP</text>
<text x="8.60" y="347.30" font-size="11.8" text-anchor="start" font-weight="bold" fill="#000" >C</text>
<text transform="translate(19.2,413.4) rotate(-90)" font-size="8.95" text-anchor="middle">Frequency of GFP+ (%)</text>
<line x1="41.80" y1="364.40" x2="41.80" y2="394.60" stroke="#000" stroke-width="1.1" />
<line x1="38.50" y1="367.90" x2="41.80" y2="367.90" stroke="#000" stroke-width="1.1" />
<text x="35.40" y="370.80" font-size="8.2" text-anchor="end" fill="#000" >100</text>
<line x1="38.50" y1="380.90" x2="41.80" y2="380.90" stroke="#000" stroke-width="1.1" />
<text x="35.40" y="383.80" font-size="8.2" text-anchor="end" fill="#000" >80</text>
<line x1="38.50" y1="393.80" x2="41.80" y2="393.80" stroke="#000" stroke-width="1.1" />
<text x="35.40" y="396.70" font-size="8.2" text-anchor="end" fill="#000" >60</text>
<line x1="41.20" y1="403.10" x2="41.20" y2="466.70" stroke="#000" stroke-width="1.1" />
<line x1="37.90" y1="403.10" x2="41.20" y2="403.10" stroke="#000" stroke-width="1.1" />
<text x="35.40" y="406.00" font-size="8.2" text-anchor="end" fill="#000" >25</text>
<line x1="37.90" y1="415.70" x2="41.20" y2="415.70" stroke="#000" stroke-width="1.1" />
<text x="35.40" y="418.60" font-size="8.2" text-anchor="end" fill="#000" >20</text>
<line x1="37.90" y1="428.30" x2="41.20" y2="428.30" stroke="#000" stroke-width="1.1" />
<text x="35.40" y="431.20" font-size="8.2" text-anchor="end" fill="#000" >15</text>
<line x1="37.90" y1="440.90" x2="41.20" y2="440.90" stroke="#000" stroke-width="1.1" />
<text x="35.40" y="443.80" font-size="8.2" text-anchor="end" fill="#000" >10</text>
<line x1="37.90" y1="453.50" x2="41.20" y2="453.50" stroke="#000" stroke-width="1.1" />
<text x="35.40" y="456.40" font-size="8.2" text-anchor="end" fill="#000" >5</text>
<line x1="37.90" y1="466.20" x2="41.20" y2="466.20" stroke="#000" stroke-width="1.1" />
<text x="35.40" y="469.10" font-size="8.2" text-anchor="end" fill="#000" >0</text>
<line x1="41.20" y1="466.20" x2="108.50" y2="466.20" stroke="#000" stroke-width="1.1" />
<line x1="57.70" y1="466.20" x2="57.70" y2="469.80" stroke="#000" stroke-width="1.0" />
<line x1="91.50" y1="466.20" x2="91.50" y2="469.80" stroke="#000" stroke-width="1.0" />
<text x="57.8" y="480.0" font-size="8.2" text-anchor="middle">Lin+</text>
<text x="91.6" y="480.0" font-size="8.2" text-anchor="middle">Lin-</text>
<polyline points="51.70,365.60 51.70,361.50 63.80,361.50 63.80,370.50" fill="none" stroke="#000" stroke-width="1.1" />
<text x="58.00" y="361.40" font-size="8" font-weight="bold" text-anchor="middle" letter-spacing="1">**</text>
<circle cx="50.40" cy="372.60" r="1.7" fill="#fff" stroke="#000" stroke-width="1.2"/>
<circle cx="53.40" cy="373.20" r="1.7" fill="#fff" stroke="#000" stroke-width="1.2"/>
<circle cx="50.90" cy="375.40" r="1.7" fill="#fff" stroke="#000" stroke-width="1.2"/>
<circle cx="53.80" cy="376.00" r="1.7" fill="#fff" stroke="#000" stroke-width="1.2"/>
<circle cx="52.20" cy="377.40" r="1.7" fill="#fff" stroke="#000" stroke-width="1.2"/>
<circle cx="50.00" cy="374.30" r="1.7" fill="#fff" stroke="#000" stroke-width="1.2"/>
<ellipse cx="52" cy="375" rx="2.4" ry="2.6" fill="#000"/>
<rect x="59.35" y="374.95" width="3.7" height="3.7" fill="#000"/>
<rect x="62.35" y="374.95" width="3.7" height="3.7" fill="#000"/>
<rect x="65.35" y="374.95" width="3.7" height="3.7" fill="#000"/>
<rect x="60.75" y="376.75" width="3.7" height="3.7" fill="#000"/>
<rect x="64.15" y="376.75" width="3.7" height="3.7" fill="#000"/>
<rect x="60.95" y="379.75" width="3.7" height="3.7" fill="#000"/>
<rect x="63.95" y="379.75" width="3.7" height="3.7" fill="#000"/>
<rect x="62.45" y="381.15" width="3.7" height="3.7" fill="#000"/>
<rect x="59.35" y="384.35" width="3.7" height="3.7" fill="#000"/>
<rect x="62.35" y="384.35" width="3.7" height="3.7" fill="#000"/>
<rect x="65.35" y="384.35" width="3.7" height="3.7" fill="#000"/>
<rect x="61.15" y="389.05" width="3.7" height="3.7" fill="#000"/>
<rect x="64.35" y="389.05" width="3.7" height="3.7" fill="#000"/>
<polyline points="84.80,424.80 84.80,399.80 96.70,399.80 96.70,404.20" fill="none" stroke="#000" stroke-width="1.1" />
<text x="91.20" y="397.70" font-size="8" font-weight="bold" text-anchor="middle" letter-spacing="1">**</text>
<circle cx="81.60" cy="433.70" r="1.65" fill="#fff" stroke="#000" stroke-width="1.15"/>
<circle cx="84.60" cy="432.90" r="1.65" fill="#fff" stroke="#000" stroke-width="1.15"/>
<circle cx="87.90" cy="434.00" r="1.65" fill="#fff" stroke="#000" stroke-width="1.15"/>
<circle cx="86.00" cy="437.00" r="1.65" fill="#fff" stroke="#000" stroke-width="1.15"/>
<circle cx="84.20" cy="443.00" r="1.65" fill="#fff" stroke="#000" stroke-width="1.15"/>
<circle cx="86.40" cy="446.70" r="1.65" fill="#fff" stroke="#000" stroke-width="1.15"/>
<circle cx="85.30" cy="450.00" r="1.65" fill="#fff" stroke="#000" stroke-width="1.15"/>
<line x1="81.20" y1="440.30" x2="88.60" y2="440.30" stroke="#000" stroke-width="1.1" />
<rect x="97.85" y="409.15" width="3.7" height="3.7" fill="#000"/>
<rect x="93.15" y="412.85" width="3.7" height="3.7" fill="#000"/>
<rect x="93.85" y="415.85" width="3.7" height="3.7" fill="#000"/>
<rect x="96.45" y="416.15" width="3.7" height="3.7" fill="#000"/>
<rect x="95.75" y="419.15" width="3.7" height="3.7" fill="#000"/>
<rect x="94.25" y="421.05" width="3.7" height="3.7" fill="#000"/>
<rect x="98.75" y="422.85" width="3.7" height="3.7" fill="#000"/>
<rect x="92.35" y="424.75" width="3.7" height="3.7" fill="#000"/>
<rect x="96.45" y="425.45" width="3.7" height="3.7" fill="#000"/>
<rect x="94.25" y="428.45" width="3.7" height="3.7" fill="#000"/>
<rect x="95.75" y="434.45" width="3.7" height="3.7" fill="#000"/>
<rect x="95.75" y="444.85" width="3.7" height="3.7" fill="#000"/>
<line x1="92.50" y1="425.00" x2="101.50" y2="425.00" stroke="#000" stroke-width="1.1" />
<circle cx="122.10" cy="355.60" r="2.1" fill="#fff" stroke="#000" stroke-width="1.2"/>
<text x="127.90" y="358.30" font-size="8" text-anchor="start" fill="#000" >Ctrl</text>
<rect x="120.20" y="367.60" width="4.4" height="4.4" fill="#000"/>
<text x="127.90" y="371.80" font-size="8" text-anchor="start" fill="#000" >CM</text>
<text x="174.60" y="346.30" font-size="11.8" text-anchor="start" font-weight="bold" fill="#000" >D</text>
<text transform="translate(181.9,414.8) rotate(-90)" font-size="9.1" text-anchor="middle" xml:space="preserve">Frequency of Lin-  (%)</text>
<line x1="203.00" y1="366.60" x2="203.00" y2="394.60" stroke="#000" stroke-width="1.1" />
<line x1="200.00" y1="367.90" x2="203.00" y2="367.90" stroke="#000" stroke-width="1.1" />
<text x="197.00" y="370.80" font-size="8.2" text-anchor="end" fill="#000" >40</text>
<line x1="200.00" y1="378.30" x2="203.00" y2="378.30" stroke="#000" stroke-width="1.1" />
<text x="197.00" y="381.20" font-size="8.2" text-anchor="end" fill="#000" >30</text>
<line x1="200.00" y1="388.60" x2="203.00" y2="388.60" stroke="#000" stroke-width="1.1" />
<text x="197.00" y="391.50" font-size="8.2" text-anchor="end" fill="#000" >20</text>
<line x1="201.00" y1="394.60" x2="203.00" y2="394.60" stroke="#000" stroke-width="1.1" />
<line x1="203.00" y1="403.20" x2="203.00" y2="466.40" stroke="#000" stroke-width="1.1" />
<line x1="200.00" y1="403.20" x2="203.00" y2="403.20" stroke="#000" stroke-width="1.1" />
<text x="197.80" y="406.10" font-size="8.2" text-anchor="end" fill="#000" >10</text>
<line x1="200.00" y1="434.80" x2="203.00" y2="434.80" stroke="#000" stroke-width="1.1" />
<text x="197.80" y="437.70" font-size="8.2" text-anchor="end" fill="#000" >5</text>
<line x1="200.00" y1="466.00" x2="203.00" y2="466.00" stroke="#000" stroke-width="1.1" />
<text x="197.80" y="468.90" font-size="8.2" text-anchor="end" fill="#000" >0</text>
<line x1="203.00" y1="466.00" x2="269.20" y2="466.00" stroke="#000" stroke-width="1.1" />
<line x1="219.60" y1="466.00" x2="219.60" y2="469.60" stroke="#000" stroke-width="1.0" />
<line x1="253.10" y1="466.00" x2="253.10" y2="469.60" stroke="#000" stroke-width="1.0" />
<text x="219.80" y="480.00" font-size="8.6" text-anchor="middle" fill="#000" >LSK</text>
<text x="253.30" y="480.00" font-size="8.6" text-anchor="middle" fill="#000" >MP</text>
<polyline points="213.00,427.80 213.00,404.70 226.00,404.70 226.00,409.50" fill="none" stroke="#000" stroke-width="1.1" />
<text x="219.70" y="403.60" font-size="8" font-weight="bold" text-anchor="middle" letter-spacing="1">*</text>
<circle cx="213.70" cy="437.30" r="1.8" fill="#fff" stroke="#000" stroke-width="1.15"/>
<circle cx="213.70" cy="447.60" r="1.8" fill="#fff" stroke="#000" stroke-width="1.15"/>
<circle cx="215.70" cy="455.20" r="1.8" fill="#fff" stroke="#000" stroke-width="1.15"/>
<circle cx="211.70" cy="459.50" r="1.8" fill="#fff" stroke="#000" stroke-width="1.15"/>
<line x1="210.40" y1="449.80" x2="217.50" y2="449.80" stroke="#000" stroke-width="1.1" />
<rect x="224.15" y="413.35" width="3.9" height="3.9" fill="#000"/>
<rect x="222.85" y="429.05" width="3.9" height="3.9" fill="#000"/>
<rect x="225.55" y="430.55" width="3.9" height="3.9" fill="#000"/>
<rect x="223.05" y="433.05" width="3.9" height="3.9" fill="#000"/>
<rect x="225.85" y="434.55" width="3.9" height="3.9" fill="#000"/>
<rect x="222.55" y="437.05" width="3.9" height="3.9" fill="#000"/>
<rect x="225.05" y="438.85" width="3.9" height="3.9" fill="#000"/>
<rect x="223.55" y="436.05" width="3.9" height="3.9" fill="#000"/>
<line x1="222.50" y1="433.50" x2="229.50" y2="433.50" stroke="#000" stroke-width="1.1" />
<circle cx="246.90" cy="374.90" r="1.8" fill="#fff" stroke="#000" stroke-width="1.15"/>
<circle cx="245.10" cy="378.60" r="1.8" fill="#fff" stroke="#000" stroke-width="1.15"/>
<circle cx="248.80" cy="380.50" r="1.8" fill="#fff" stroke="#000" stroke-width="1.15"/>
<circle cx="246.90" cy="383.80" r="1.8" fill="#fff" stroke="#000" stroke-width="1.15"/>
<rect x="257.25" y="368.65" width="3.9" height="3.9" fill="#000"/>
<rect x="255.15" y="372.35" width="3.9" height="3.9" fill="#000"/>
<rect x="259.15" y="377.55" width="3.9" height="3.9" fill="#000"/>
<rect x="254.55" y="388.05" width="3.9" height="3.9" fill="#000"/>
<rect x="256.65" y="389.65" width="3.9" height="3.9" fill="#000"/>
<rect x="259.85" y="387.25" width="3.9" height="3.9" fill="#000"/>
<rect x="258.05" y="390.55" width="3.9" height="3.9" fill="#000"/>
<rect x="255.55" y="391.65" width="3.9" height="3.9" fill="#000"/>
<line x1="255.50" y1="384.50" x2="262.90" y2="384.50" stroke="#000" stroke-width="1.2" />
<line x1="259.20" y1="380.50" x2="259.20" y2="388.00" stroke="#000" stroke-width="1.1" />
<circle cx="281.60" cy="354.60" r="2.1" fill="#fff" stroke="#000" stroke-width="1.2"/>
<text x="287.00" y="357.00" font-size="8" text-anchor="start" fill="#222" >Ctrl</text>
<rect x="279.40" y="366.60" width="4.4" height="4.4" fill="#000"/>
<text x="287.00" y="370.50" font-size="8" text-anchor="start" fill="#222" >CM</text>
<rect x="330.4" y="351.5" width="34.400000000000034" height="24.80000000000001" fill="#ebb06d"/>
<rect x="330.4" y="377.2" width="34.400000000000034" height="25.19999999999999" fill="#2d4d8e"/>
<rect x="330.4" y="402.4" width="34.400000000000034" height="6.800000000000011" fill="#4e2468"/>
<rect x="330.4" y="409.2" width="34.400000000000034" height="0.5" fill="#d4007f"/>
<rect x="330.4" y="410.6" width="34.400000000000034" height="14.799999999999955" fill="#b4bb8c"/>
<rect x="330.4" y="426.6" width="34.400000000000034" height="39.39999999999998" fill="#ab0733"/>
<rect x="372.0" y="351.5" width="34.5" height="20.100000000000023" fill="#ebb06d"/>
<rect x="372.0" y="373.0" width="34.5" height="56.39999999999998" fill="#2d4d8e"/>
<rect x="372.0" y="430.0" width="34.5" height="16.30000000000001" fill="#4e2468"/>
<rect x="372.0" y="446.3" width="34.5" height="0.5" fill="#d4007f"/>
<rect x="372.0" y="447.4" width="34.5" height="4.2000000000000455" fill="#b4bb8c"/>
<rect x="372.0" y="452.4" width="34.5" height="13.600000000000023" fill="#ab0733"/>
<text x="349.20" y="368.00" font-size="9.6" text-anchor="middle" fill="#222" >22.7</text>
<text x="347.00" y="394.40" font-size="9.6" text-anchor="middle" fill="#fff" >22</text>
<text x="347.00" y="409.70" font-size="9.6" text-anchor="middle" fill="#fff" >5.1</text>
<text x="348.00" y="422.60" font-size="9.6" text-anchor="middle" fill="#222" >13.9</text>
<text x="348.00" y="451.70" font-size="9.6" text-anchor="middle" fill="#fff" >34.8</text>
<text x="389.80" y="368.00" font-size="9.6" text-anchor="middle" fill="#222" >18.8</text>
<text x="389.80" y="408.00" font-size="9.6" text-anchor="middle" fill="#fff" >49.9</text>
<text x="389.80" y="442.40" font-size="9.6" text-anchor="middle" fill="#fff" >14.4</text>
<text x="389.80" y="453.80" font-size="9.6" text-anchor="middle" fill="#222" >4.1</text>
<text x="389.80" y="463.80" font-size="9.6" text-anchor="middle" fill="#fff" >11.9</text>
<text x="348.00" y="476.60" font-size="9.2" text-anchor="middle" fill="#000" >Ctrl</text>
<text x="389.80" y="476.60" font-size="9.2" text-anchor="middle" fill="#000" >CM</text>
<rect x="420.8" y="353.00" width="12.6" height="9.6" fill="#ebb06d"/>
<text x="436.50" y="360.90" font-size="8.0" text-anchor="start" fill="#222" >Pre-GM</text>
<rect x="420.8" y="367.35" width="12.6" height="9.6" fill="#2d4d8e"/>
<text x="436.50" y="375.25" font-size="8.0" text-anchor="start" fill="#222" >GMP</text>
<rect x="420.8" y="381.70" width="12.6" height="9.6" fill="#4e2468"/>
<text x="436.50" y="389.60" font-size="8.0" text-anchor="start" fill="#222" >Pre-MegE</text>
<rect x="420.8" y="396.05" width="12.6" height="9.6" fill="#d4007f"/>
<text x="436.50" y="403.95" font-size="8.0" text-anchor="start" fill="#222" >PreCFU-E</text>
<rect x="420.8" y="410.40" width="12.6" height="9.6" fill="#b4bb8c"/>
<text x="436.50" y="418.30" font-size="8.0" text-anchor="start" fill="#222" >CFU-E</text>
<rect x="420.8" y="424.75" width="12.6" height="9.6" fill="#ab0733"/>
<text x="436.50" y="432.65" font-size="8.0" text-anchor="start" fill="#222" >ProEry</text>
<text x="9.00" y="515.60" font-size="11.8" text-anchor="start" font-weight="bold" fill="#000" >E</text>
<text transform="translate(14.6,583.9) rotate(-90)" font-size="9.2" text-anchor="middle">Relative expression</text>
<line x1="39.40" y1="528.20" x2="39.40" y2="547.00" stroke="#000" stroke-width="1.1" />
<line x1="36.20" y1="529.40" x2="39.40" y2="529.40" stroke="#000" stroke-width="1.1" />
<text x="33.20" y="532.30" font-size="8.4" text-anchor="end" fill="#000" >10</text>
<line x1="36.20" y1="541.00" x2="39.40" y2="541.00" stroke="#000" stroke-width="1.1" />
<text x="33.20" y="543.90" font-size="8.4" text-anchor="end" fill="#000" >5</text>
<line x1="36.90" y1="546.90" x2="39.40" y2="546.90" stroke="#000" stroke-width="1.1" />
<line x1="39.40" y1="555.40" x2="39.40" y2="637.60" stroke="#000" stroke-width="1.1" />
<line x1="36.20" y1="555.50" x2="39.40" y2="555.50" stroke="#000" stroke-width="1.1" />
<text x="33.20" y="558.40" font-size="8.4" text-anchor="end" fill="#000" >2.0</text>
<line x1="36.20" y1="574.80" x2="39.40" y2="574.80" stroke="#000" stroke-width="1.1" />
<text x="33.20" y="577.70" font-size="8.4" text-anchor="end" fill="#000" >1.5</text>
<line x1="36.20" y1="594.10" x2="39.40" y2="594.10" stroke="#000" stroke-width="1.1" />
<text x="33.20" y="597.00" font-size="8.4" text-anchor="end" fill="#000" >1.0</text>
<line x1="36.20" y1="613.90" x2="39.40" y2="613.90" stroke="#000" stroke-width="1.1" />
<text x="33.20" y="616.80" font-size="8.4" text-anchor="end" fill="#000" >0.5</text>
<line x1="36.20" y1="633.20" x2="39.40" y2="633.20" stroke="#000" stroke-width="1.1" />
<text x="33.20" y="636.10" font-size="8.4" text-anchor="end" fill="#000" >0.0</text>
<line x1="39.40" y1="637.20" x2="327.80" y2="637.20" stroke="#000" stroke-width="1.1" />
<line x1="39.4" y1="594.3" x2="328.5" y2="594.3" stroke="#000" stroke-width="1" stroke-dasharray="1.1,1.5"/>
<line x1="49.50" y1="637.20" x2="49.50" y2="640.00" stroke="#000" stroke-width="1.0" />
<text transform="translate(53.00,647.60) rotate(-45)" font-size="8.1" text-anchor="end">Spi-1</text>
<line x1="70.19" y1="637.20" x2="70.19" y2="640.00" stroke="#000" stroke-width="1.0" />
<text transform="translate(73.69,647.60) rotate(-45)" font-size="8.1" text-anchor="end">Zfpm1</text>
<line x1="90.88" y1="637.20" x2="90.88" y2="640.00" stroke="#000" stroke-width="1.0" />
<text transform="translate(94.38,647.60) rotate(-45)" font-size="8.1" text-anchor="end">Klf1</text>
<line x1="111.57" y1="637.20" x2="111.57" y2="640.00" stroke="#000" stroke-width="1.0" />
<text transform="translate(115.07,647.60) rotate(-45)" font-size="8.1" text-anchor="end">Gata1</text>
<line x1="132.26" y1="637.20" x2="132.26" y2="640.00" stroke="#000" stroke-width="1.0" />
<text transform="translate(135.76,647.60) rotate(-45)" font-size="8.1" text-anchor="end">Gata2</text>
<line x1="152.95" y1="637.20" x2="152.95" y2="640.00" stroke="#000" stroke-width="1.0" />
<text transform="translate(156.45,647.60) rotate(-45)" font-size="8.1" text-anchor="end">Gfi1b</text>
<line x1="173.64" y1="637.20" x2="173.64" y2="640.00" stroke="#000" stroke-width="1.0" />
<text transform="translate(177.14,647.60) rotate(-45)" font-size="8.1" text-anchor="end">Lmo2</text>
<line x1="194.33" y1="637.20" x2="194.33" y2="640.00" stroke="#000" stroke-width="1.0" />
<text transform="translate(197.83,647.60) rotate(-45)" font-size="8.1" text-anchor="end">Tal1</text>
<line x1="215.02" y1="637.20" x2="215.02" y2="640.00" stroke="#000" stroke-width="1.0" />
<text transform="translate(218.52,647.60) rotate(-45)" font-size="8.1" text-anchor="end">Nfe2</text>
<line x1="235.71" y1="637.20" x2="235.71" y2="640.00" stroke="#000" stroke-width="1.0" />
<text transform="translate(239.21,647.60) rotate(-45)" font-size="8.1" text-anchor="end">Runx1</text>
<line x1="256.40" y1="637.20" x2="256.40" y2="640.00" stroke="#000" stroke-width="1.0" />
<text transform="translate(259.90,647.60) rotate(-45)" font-size="8.1" text-anchor="end">Fli1</text>
<line x1="277.09" y1="637.20" x2="277.09" y2="640.00" stroke="#000" stroke-width="1.0" />
<text transform="translate(280.59,647.60) rotate(-45)" font-size="8.1" text-anchor="end">Pf4</text>
<line x1="297.78" y1="637.20" x2="297.78" y2="640.00" stroke="#000" stroke-width="1.0" />
<text transform="translate(301.28,647.60) rotate(-45)" font-size="8.1" text-anchor="end">Vwf</text>
<line x1="318.47" y1="637.20" x2="318.47" y2="640.00" stroke="#000" stroke-width="1.0" />
<text transform="translate(321.97,647.60) rotate(-45)" font-size="8.1" text-anchor="end">Mpl</text>
<circle cx="42.60" cy="565.70" r="1.8" fill="#fff" stroke="#000" stroke-width="1.15"/>
<circle cx="47.00" cy="565.70" r="1.8" fill="#fff" stroke="#000" stroke-width="1.15"/>
<circle cx="45.10" cy="602.50" r="1.8" fill="#fff" stroke="#000" stroke-width="1.15"/>
<circle cx="43.90" cy="620.60" r="1.8" fill="#fff" stroke="#000" stroke-width="1.15"/>
<circle cx="48.80" cy="619.30" r="1.8" fill="#fff" stroke="#000" stroke-width="1.15"/>
<circle cx="45.50" cy="594.10" r="1.8" fill="#fff" stroke="#000" stroke-width="1.15"/>
<line x1="42.00" y1="594.10" x2="49.00" y2="594.10" stroke="#000" stroke-width="1.1" />
<line x1="45.50" y1="584.50" x2="45.50" y2="603.00" stroke="#000" stroke-width="1.0" />
<line x1="44.00" y1="584.50" x2="47.00" y2="584.50" stroke="#000" stroke-width="1.0" />
<rect x="51.70" y="533.50" width="4.2" height="4.2" fill="#000"/>
<rect x="51.50" y="540.50" width="4.2" height="4.2" fill="#000"/>
<rect x="52.10" y="542.50" width="4.2" height="4.2" fill="#000"/>
<rect x="51.70" y="544.30" width="4.2" height="4.2" fill="#000"/>
<rect x="50.80" y="541.70" width="4.2" height="4.2" fill="#000"/>
<circle cx="64.80" cy="587.00" r="1.8" fill="#fff" stroke="#000" stroke-width="1.15"/>
<circle cx="69.70" cy="585.00" r="1.8" fill="#fff" stroke="#000" stroke-width="1.15"/>
<circle cx="66.40" cy="595.10" r="1.8" fill="#fff" stroke="#000" stroke-width="1.15"/>
<circle cx="69.70" cy="600.00" r="1.8" fill="#fff" stroke="#000" stroke-width="1.15"/>
<circle cx="64.80" cy="603.80" r="1.8" fill="#fff" stroke="#000" stroke-width="1.15"/>
<line x1="62.90" y1="594.50" x2="69.90" y2="594.50" stroke="#000" stroke-width="1.1" />
<line x1="66.40" y1="589.00" x2="66.40" y2="600.00" stroke="#000" stroke-width="1.0" />
<line x1="64.90" y1="589.00" x2="67.90" y2="589.00" stroke="#000" stroke-width="1.0" />
<rect x="72.00" y="625.90" width="4.2" height="4.2" fill="#000"/>
<rect x="72.40" y="628.80" width="4.2" height="4.2" fill="#000"/>
<rect x="72.00" y="630.70" width="4.2" height="4.2" fill="#000"/>
<rect x="72.20" y="627.40" width="4.2" height="4.2" fill="#000"/>
<circle cx="87.10" cy="545.80" r="1.8" fill="#fff" stroke="#000" stroke-width="1.15"/>
<circle cx="84.20" cy="574.20" r="1.8" fill="#fff" stroke="#000" stroke-width="1.15"/>
<circle cx="88.00" cy="575.20" r="1.8" fill="#fff" stroke="#000" stroke-width="1.15"/>
<circle cx="87.60" cy="590.90" r="1.8" fill="#fff" stroke="#000" stroke-width="1.15"/>
<circle cx="86.70" cy="604.80" r="1.8" fill="#fff" stroke="#000" stroke-width="1.15"/>
<circle cx="87.10" cy="625.70" r="1.8" fill="#fff" stroke="#000" stroke-width="1.15"/>
<line x1="83.80" y1="584.50" x2="90.80" y2="584.50" stroke="#000" stroke-width="1.1" />
<line x1="87.30" y1="575.00" x2="87.30" y2="593.00" stroke="#000" stroke-width="1.0" />
<line x1="85.80" y1="575.00" x2="88.80" y2="575.00" stroke="#000" stroke-width="1.0" />
<rect x="91.70" y="543.10" width="4.2" height="4.2" fill="#000"/>
<rect x="94.60" y="542.70" width="4.2" height="4.2" fill="#000"/>
<rect x="96.00" y="542.30" width="4.2" height="4.2" fill="#000"/>
<rect x="92.70" y="562.10" width="4.2" height="4.2" fill="#000"/>
<rect x="92.70" y="607.50" width="4.2" height="4.2" fill="#000"/>
<line x1="91.30" y1="564.20" x2="98.30" y2="564.20" stroke="#000" stroke-width="1.1" />
<line x1="94.80" y1="556.00" x2="94.80" y2="573.00" stroke="#000" stroke-width="1.0" />
<line x1="93.30" y1="556.00" x2="96.30" y2="556.00" stroke="#000" stroke-width="1.0" />
<circle cx="107.40" cy="578.10" r="1.8" fill="#fff" stroke="#000" stroke-width="1.15"/>
<circle cx="107.40" cy="585.00" r="1.8" fill="#fff" stroke="#000" stroke-width="1.15"/>
<circle cx="107.40" cy="591.20" r="1.8" fill="#fff" stroke="#000" stroke-width="1.15"/>
<circle cx="107.40" cy="602.80" r="1.8" fill="#fff" stroke="#000" stroke-width="1.15"/>
<circle cx="107.40" cy="614.10" r="1.8" fill="#fff" stroke="#000" stroke-width="1.15"/>
<line x1="103.90" y1="594.10" x2="110.90" y2="594.10" stroke="#000" stroke-width="1.1" />
<line x1="107.40" y1="587.00" x2="107.40" y2="601.00" stroke="#000" stroke-width="1.0" />
<line x1="105.90" y1="587.00" x2="108.90" y2="587.00" stroke="#000" stroke-width="1.0" />
<rect x="113.00" y="569.40" width="4.2" height="4.2" fill="#000"/>
<rect x="113.00" y="572.10" width="4.2" height="4.2" fill="#000"/>
<rect x="113.00" y="591.50" width="4.2" height="4.2" fill="#000"/>
<rect x="113.00" y="597.30" width="4.2" height="4.2" fill="#000"/>
<rect x="113.00" y="575.40" width="4.2" height="4.2" fill="#000"/>
<line x1="111.60" y1="582.00" x2="118.60" y2="582.00" stroke="#000" stroke-width="1.1" />
<line x1="115.10" y1="574.00" x2="115.10" y2="590.00" stroke="#000" stroke-width="1.0" />
<line x1="113.60" y1="574.00" x2="116.60" y2="574.00" stroke="#000" stroke-width="1.0" />
<circle cx="128.20" cy="575.40" r="1.8" fill="#fff" stroke="#000" stroke-width="1.15"/>
<circle cx="125.60" cy="582.50" r="1.8" fill="#fff" stroke="#000" stroke-width="1.15"/>
<circle cx="129.50" cy="585.80" r="1.8" fill="#fff" stroke="#000" stroke-width="1.15"/>
<circle cx="128.20" cy="600.00" r="1.8" fill="#fff" stroke="#000" stroke-width="1.15"/>
<circle cx="128.20" cy="609.60" r="1.8" fill="#fff" stroke="#000" stroke-width="1.15"/>
<circle cx="128.20" cy="618.70" r="1.8" fill="#fff" stroke="#000" stroke-width="1.15"/>
<line x1="124.70" y1="594.10" x2="131.70" y2="594.10" stroke="#000" stroke-width="1.1" />
<line x1="128.20" y1="587.00" x2="128.20" y2="601.00" stroke="#000" stroke-width="1.0" />
<line x1="126.70" y1="587.00" x2="129.70" y2="587.00" stroke="#000" stroke-width="1.0" />
<rect x="133.80" y="539.80" width="4.2" height="4.2" fill="#000"/>
<rect x="133.80" y="543.70" width="4.2" height="4.2" fill="#000"/>
<rect x="131.30" y="559.70" width="4.2" height="4.2" fill="#000"/>
<rect x="135.70" y="564.90" width="4.2" height="4.2" fill="#000"/>
<rect x="133.80" y="596.50" width="4.2" height="4.2" fill="#000"/>
<line x1="132.40" y1="560.00" x2="139.40" y2="560.00" stroke="#000" stroke-width="1.1" />
<line x1="135.90" y1="556.00" x2="135.90" y2="565.00" stroke="#000" stroke-width="1.0" />
<line x1="134.40" y1="556.00" x2="137.40" y2="556.00" stroke="#000" stroke-width="1.0" />
<circle cx="148.80" cy="580.00" r="1.8" fill="#fff" stroke="#000" stroke-width="1.15"/>
<circle cx="148.80" cy="593.20" r="1.8" fill="#fff" stroke="#000" stroke-width="1.15"/>
<circle cx="148.80" cy="597.50" r="1.8" fill="#fff" stroke="#000" stroke-width="1.15"/>
<circle cx="148.80" cy="602.50" r="1.8" fill="#fff" stroke="#000" stroke-width="1.15"/>
<circle cx="148.80" cy="608.60" r="1.8" fill="#fff" stroke="#000" stroke-width="1.15"/>
<line x1="145.30" y1="594.10" x2="152.30" y2="594.10" stroke="#000" stroke-width="1.1" />
<line x1="148.80" y1="590.00" x2="148.80" y2="598.00" stroke="#000" stroke-width="1.0" />
<line x1="147.30" y1="590.00" x2="150.30" y2="590.00" stroke="#000" stroke-width="1.0" />
<rect x="151.60" y="529.20" width="4.2" height="4.2" fill="#000"/>
<rect x="155.90" y="535.00" width="4.2" height="4.2" fill="#000"/>
<rect x="153.50" y="539.80" width="4.2" height="4.2" fill="#000"/>
<rect x="157.40" y="541.20" width="4.2" height="4.2" fill="#000"/>
<rect x="153.10" y="543.70" width="4.2" height="4.2" fill="#000"/>
<rect x="154.50" y="553.90" width="4.2" height="4.2" fill="#000"/>
<rect x="154.50" y="561.10" width="4.2" height="4.2" fill="#000"/>
<line x1="153.10" y1="542.00" x2="160.10" y2="542.00" stroke="#000" stroke-width="1.1" />
<line x1="156.60" y1="538.00" x2="156.60" y2="547.00" stroke="#000" stroke-width="1.0" />
<line x1="155.10" y1="538.00" x2="158.10" y2="538.00" stroke="#000" stroke-width="1.0" />
<circle cx="170.10" cy="583.10" r="1.8" fill="#fff" stroke="#000" stroke-width="1.15"/>
<circle cx="170.10" cy="588.30" r="1.8" fill="#fff" stroke="#000" stroke-width="1.15"/>
<circle cx="170.10" cy="598.00" r="1.8" fill="#fff" stroke="#000" stroke-width="1.15"/>
<circle cx="170.10" cy="619.30" r="1.8" fill="#fff" stroke="#000" stroke-width="1.15"/>
<circle cx="170.10" cy="593.50" r="1.8" fill="#fff" stroke="#000" stroke-width="1.15"/>
<line x1="166.60" y1="594.10" x2="173.60" y2="594.10" stroke="#000" stroke-width="1.1" />
<line x1="170.10" y1="589.00" x2="170.10" y2="599.00" stroke="#000" stroke-width="1.0" />
<line x1="168.60" y1="589.00" x2="171.60" y2="589.00" stroke="#000" stroke-width="1.0" />
<rect x="175.20" y="585.70" width="4.2" height="4.2" fill="#000"/>
<rect x="172.90" y="596.50" width="4.2" height="4.2" fill="#000"/>
<rect x="176.70" y="599.20" width="4.2" height="4.2" fill="#000"/>
<rect x="174.40" y="603.10" width="4.2" height="4.2" fill="#000"/>
<rect x="178.70" y="609.40" width="4.2" height="4.2" fill="#000"/>
<rect x="173.80" y="613.30" width="4.2" height="4.2" fill="#000"/>
<line x1="174.00" y1="600.50" x2="181.00" y2="600.50" stroke="#000" stroke-width="1.1" />
<line x1="177.50" y1="596.00" x2="177.50" y2="606.00" stroke="#000" stroke-width="1.0" />
<line x1="176.00" y1="596.00" x2="179.00" y2="596.00" stroke="#000" stroke-width="1.0" />
<circle cx="190.40" cy="577.30" r="1.8" fill="#fff" stroke="#000" stroke-width="1.15"/>
<circle cx="190.40" cy="587.40" r="1.8" fill="#fff" stroke="#000" stroke-width="1.15"/>
<circle cx="187.50" cy="593.60" r="1.8" fill="#fff" stroke="#000" stroke-width="1.15"/>
<circle cx="192.40" cy="595.10" r="1.8" fill="#fff" stroke="#000" stroke-width="1.15"/>
<circle cx="190.40" cy="617.40" r="1.8" fill="#fff" stroke="#000" stroke-width="1.15"/>
<line x1="186.90" y1="593.00" x2="193.90" y2="593.00" stroke="#000" stroke-width="1.1" />
<line x1="190.40" y1="588.00" x2="190.40" y2="598.00" stroke="#000" stroke-width="1.0" />
<line x1="188.90" y1="588.00" x2="191.90" y2="588.00" stroke="#000" stroke-width="1.0" />
<rect x="196.10" y="569.80" width="4.2" height="4.2" fill="#000"/>
<rect x="199.00" y="579.90" width="4.2" height="4.2" fill="#000"/>
<rect x="195.10" y="583.70" width="4.2" height="4.2" fill="#000"/>
<rect x="196.10" y="594.90" width="4.2" height="4.2" fill="#000"/>
<rect x="196.10" y="602.70" width="4.2" height="4.2" fill="#000"/>
<line x1="194.70" y1="588.00" x2="201.70" y2="588.00" stroke="#000" stroke-width="1.1" />
<line x1="198.20" y1="583.00" x2="198.20" y2="593.00" stroke="#000" stroke-width="1.0" />
<line x1="196.70" y1="583.00" x2="199.70" y2="583.00" stroke="#000" stroke-width="1.0" />
<circle cx="211.20" cy="569.60" r="1.8" fill="#fff" stroke="#000" stroke-width="1.15"/>
<circle cx="211.20" cy="582.00" r="1.8" fill="#fff" stroke="#000" stroke-width="1.15"/>
<circle cx="211.20" cy="606.30" r="1.8" fill="#fff" stroke="#000" stroke-width="1.15"/>
<circle cx="211.20" cy="617.40" r="1.8" fill="#fff" stroke="#000" stroke-width="1.15"/>
<circle cx="211.20" cy="594.00" r="1.8" fill="#fff" stroke="#000" stroke-width="1.15"/>
<line x1="207.70" y1="594.10" x2="214.70" y2="594.10" stroke="#000" stroke-width="1.1" />
<line x1="211.20" y1="588.00" x2="211.20" y2="600.00" stroke="#000" stroke-width="1.0" />
<line x1="209.70" y1="588.00" x2="212.70" y2="588.00" stroke="#000" stroke-width="1.0" />
<rect x="216.90" y="588.70" width="4.2" height="4.2" fill="#000"/>
<rect x="216.90" y="591.40" width="4.2" height="4.2" fill="#000"/>
<rect x="216.90" y="597.30" width="4.2" height="4.2" fill="#000"/>
<rect x="216.90" y="602.70" width="4.2" height="4.2" fill="#000"/>
<rect x="216.90" y="617.20" width="4.2" height="4.2" fill="#000"/>
<line x1="215.50" y1="599.00" x2="222.50" y2="599.00" stroke="#000" stroke-width="1.1" />
<line x1="219.00" y1="594.00" x2="219.00" y2="604.00" stroke="#000" stroke-width="1.0" />
<line x1="217.50" y1="594.00" x2="220.50" y2="594.00" stroke="#000" stroke-width="1.0" />
<circle cx="231.90" cy="576.70" r="1.8" fill="#fff" stroke="#000" stroke-width="1.15"/>
<circle cx="229.00" cy="593.60" r="1.8" fill="#fff" stroke="#000" stroke-width="1.15"/>
<circle cx="231.90" cy="596.00" r="1.8" fill="#fff" stroke="#000" stroke-width="1.15"/>
<circle cx="231.00" cy="599.00" r="1.8" fill="#fff" stroke="#000" stroke-width="1.15"/>
<circle cx="231.90" cy="601.90" r="1.8" fill="#fff" stroke="#000" stroke-width="1.15"/>
<line x1="227.70" y1="593.80" x2="234.70" y2="593.80" stroke="#000" stroke-width="1.1" />
<line x1="231.20" y1="590.00" x2="231.20" y2="598.00" stroke="#000" stroke-width="1.0" />
<line x1="229.70" y1="590.00" x2="232.70" y2="590.00" stroke="#000" stroke-width="1.0" />
<rect x="240.10" y="576.60" width="4.2" height="4.2" fill="#000"/>
<rect x="236.60" y="580.40" width="4.2" height="4.2" fill="#000"/>
<rect x="234.70" y="589.10" width="4.2" height="4.2" fill="#000"/>
<rect x="238.50" y="595.90" width="4.2" height="4.2" fill="#000"/>
<rect x="240.50" y="605.60" width="4.2" height="4.2" fill="#000"/>
<rect x="236.20" y="610.00" width="4.2" height="4.2" fill="#000"/>
<line x1="236.00" y1="592.00" x2="243.00" y2="592.00" stroke="#000" stroke-width="1.1" />
<line x1="239.50" y1="588.00" x2="239.50" y2="597.00" stroke="#000" stroke-width="1.0" />
<line x1="238.00" y1="588.00" x2="241.00" y2="588.00" stroke="#000" stroke-width="1.0" />
<circle cx="249.90" cy="582.00" r="1.8" fill="#fff" stroke="#000" stroke-width="1.15"/>
<circle cx="253.80" cy="586.40" r="1.8" fill="#fff" stroke="#000" stroke-width="1.15"/>
<circle cx="252.20" cy="593.20" r="1.8" fill="#fff" stroke="#000" stroke-width="1.15"/>
<circle cx="252.60" cy="600.00" r="1.8" fill="#fff" stroke="#000" stroke-width="1.15"/>
<circle cx="252.20" cy="610.20" r="1.8" fill="#fff" stroke="#000" stroke-width="1.15"/>
<line x1="248.70" y1="592.80" x2="255.70" y2="592.80" stroke="#000" stroke-width="1.1" />
<line x1="252.20" y1="588.00" x2="252.20" y2="597.00" stroke="#000" stroke-width="1.0" />
<line x1="250.70" y1="588.00" x2="253.70" y2="588.00" stroke="#000" stroke-width="1.0" />
<rect x="255.50" y="586.20" width="4.2" height="4.2" fill="#000"/>
<rect x="259.40" y="590.10" width="4.2" height="4.2" fill="#000"/>
<rect x="258.80" y="601.70" width="4.2" height="4.2" fill="#000"/>
<rect x="258.80" y="605.60" width="4.2" height="4.2" fill="#000"/>
<line x1="257.30" y1="599.00" x2="264.30" y2="599.00" stroke="#000" stroke-width="1.1" />
<line x1="260.80" y1="594.00" x2="260.80" y2="604.00" stroke="#000" stroke-width="1.0" />
<line x1="259.30" y1="594.00" x2="262.30" y2="594.00" stroke="#000" stroke-width="1.0" />
<circle cx="273.40" cy="570.80" r="1.8" fill="#fff" stroke="#000" stroke-width="1.15"/>
<circle cx="273.40" cy="592.30" r="1.8" fill="#fff" stroke="#000" stroke-width="1.15"/>
<circle cx="273.40" cy="597.70" r="1.8" fill="#fff" stroke="#000" stroke-width="1.15"/>
<circle cx="276.50" cy="603.40" r="1.8" fill="#fff" stroke="#000" stroke-width="1.15"/>
<circle cx="272.30" cy="607.40" r="1.8" fill="#fff" stroke="#000" stroke-width="1.15"/>
<line x1="270.00" y1="593.00" x2="277.00" y2="593.00" stroke="#000" stroke-width="1.1" />
<line x1="273.50" y1="589.00" x2="273.50" y2="598.00" stroke="#000" stroke-width="1.0" />
<line x1="272.00" y1="589.00" x2="275.00" y2="589.00" stroke="#000" stroke-width="1.0" />
<rect x="278.50" y="629.40" width="4.2" height="4.2" fill="#000"/>
<rect x="279.50" y="630.40" width="4.2" height="4.2" fill="#000"/>
<rect x="278.70" y="631.20" width="4.2" height="4.2" fill="#000"/>
<circle cx="296.90" cy="584.90" r="1.8" fill="#fff" stroke="#000" stroke-width="1.15"/>
<circle cx="292.80" cy="589.50" r="1.8" fill="#fff" stroke="#000" stroke-width="1.15"/>
<circle cx="290.80" cy="592.60" r="1.8" fill="#fff" stroke="#000" stroke-width="1.15"/>
<circle cx="295.40" cy="596.20" r="1.8" fill="#fff" stroke="#000" stroke-width="1.15"/>
<circle cx="293.80" cy="607.70" r="1.8" fill="#fff" stroke="#000" stroke-width="1.15"/>
<line x1="290.50" y1="592.30" x2="297.50" y2="592.30" stroke="#000" stroke-width="1.1" />
<line x1="294.00" y1="589.00" x2="294.00" y2="596.00" stroke="#000" stroke-width="1.0" />
<line x1="292.50" y1="589.00" x2="295.50" y2="589.00" stroke="#000" stroke-width="1.0" />
<rect x="299.40" y="625.60" width="4.2" height="4.2" fill="#000"/>
<rect x="299.40" y="631.00" width="4.2" height="4.2" fill="#000"/>
<circle cx="314.60" cy="564.90" r="1.8" fill="#fff" stroke="#000" stroke-width="1.15"/>
<circle cx="314.60" cy="590.00" r="1.8" fill="#fff" stroke="#000" stroke-width="1.15"/>
<circle cx="314.60" cy="593.00" r="1.8" fill="#fff" stroke="#000" stroke-width="1.15"/>
<circle cx="314.60" cy="601.80" r="1.8" fill="#fff" stroke="#000" stroke-width="1.15"/>
<circle cx="314.60" cy="621.20" r="1.8" fill="#fff" stroke="#000" stroke-width="1.15"/>
<line x1="311.10" y1="591.00" x2="318.10" y2="591.00" stroke="#000" stroke-width="1.1" />
<line x1="314.60" y1="586.00" x2="314.60" y2="595.00" stroke="#000" stroke-width="1.0" />
<line x1="313.10" y1="586.00" x2="316.10" y2="586.00" stroke="#000" stroke-width="1.0" />
<rect x="323.00" y="613.00" width="4.2" height="4.2" fill="#000"/>
<rect x="319.00" y="617.60" width="4.2" height="4.2" fill="#000"/>
<rect x="320.50" y="622.50" width="4.2" height="4.2" fill="#000"/>
<rect x="320.40" y="625.90" width="4.2" height="4.2" fill="#000"/>
<rect x="320.20" y="628.90" width="4.2" height="4.2" fill="#000"/>
<rect x="320.20" y="631.40" width="4.2" height="4.2" fill="#000"/>
<polyline points="45.60,558.50 45.60,527.70 52.90,527.70 52.90,533.50" fill="none" stroke="#000" stroke-width="1.2" />
<text x="49.50" y="526.40" font-size="8" font-weight="bold" text-anchor="middle" letter-spacing="1">**</text>
<polyline points="66.40,577.70 66.40,574.80 74.90,574.80 74.90,618.30" fill="none" stroke="#000" stroke-width="1.2" />
<text x="70.80" y="573.00" font-size="8" font-weight="bold" text-anchor="middle" letter-spacing="1">***</text>
<polyline points="127.60,567.60 127.60,532.80 136.30,532.80 136.30,535.00" fill="none" stroke="#000" stroke-width="1.2" />
<text x="132.50" y="531.40" font-size="8" font-weight="bold" text-anchor="middle" letter-spacing="1">*</text>
<polyline points="148.80,569.60 148.80,521.20 157.20,521.20 157.20,524.50" fill="none" stroke="#000" stroke-width="1.2" />
<text x="153.20" y="520.80" font-size="8" font-weight="bold" text-anchor="middle" letter-spacing="1">*</text>
<polyline points="273.40,561.50 273.40,559.20 281.10,559.20 281.10,623.80" fill="none" stroke="#000" stroke-width="1.2" />
<text x="277.90" y="558.60" font-size="8" font-weight="bold" text-anchor="middle" letter-spacing="1">***</text>
<polyline points="293.80,580.00 293.80,577.20 302.00,577.20 302.00,620.00" fill="none" stroke="#000" stroke-width="1.2" />
<text x="298.20" y="576.60" font-size="8" font-weight="bold" text-anchor="middle" letter-spacing="1">***</text>
<polyline points="313.80,557.70 313.80,554.60 323.10,554.60 323.10,608.50" fill="none" stroke="#000" stroke-width="1.2" />
<text x="318.50" y="553.50" font-size="8" font-weight="bold" text-anchor="middle" letter-spacing="1">***</text>
<circle cx="347.60" cy="533.00" r="2.0" fill="#fff" stroke="#000" stroke-width="1.2"/>
<text x="353.30" y="535.70" font-size="7.7" text-anchor="start" fill="#222" >Ctrl</text>
<rect x="345.90" y="544.10" width="4.2" height="4.2" fill="#000"/>
<text x="353.30" y="548.50" font-size="7.7" text-anchor="start" fill="#222" >CM</text>
<rect x="0" y="0" width="520" height="1" fill="#000"/><rect x="0" y="0" width="1" height="672" fill="#000"/><rect x="518.6" y="0" width="1.4" height="672" fill="#111"/><rect x="0" y="670.6" width="520" height="1.4" fill="#333"/>
</svg></body></html>
